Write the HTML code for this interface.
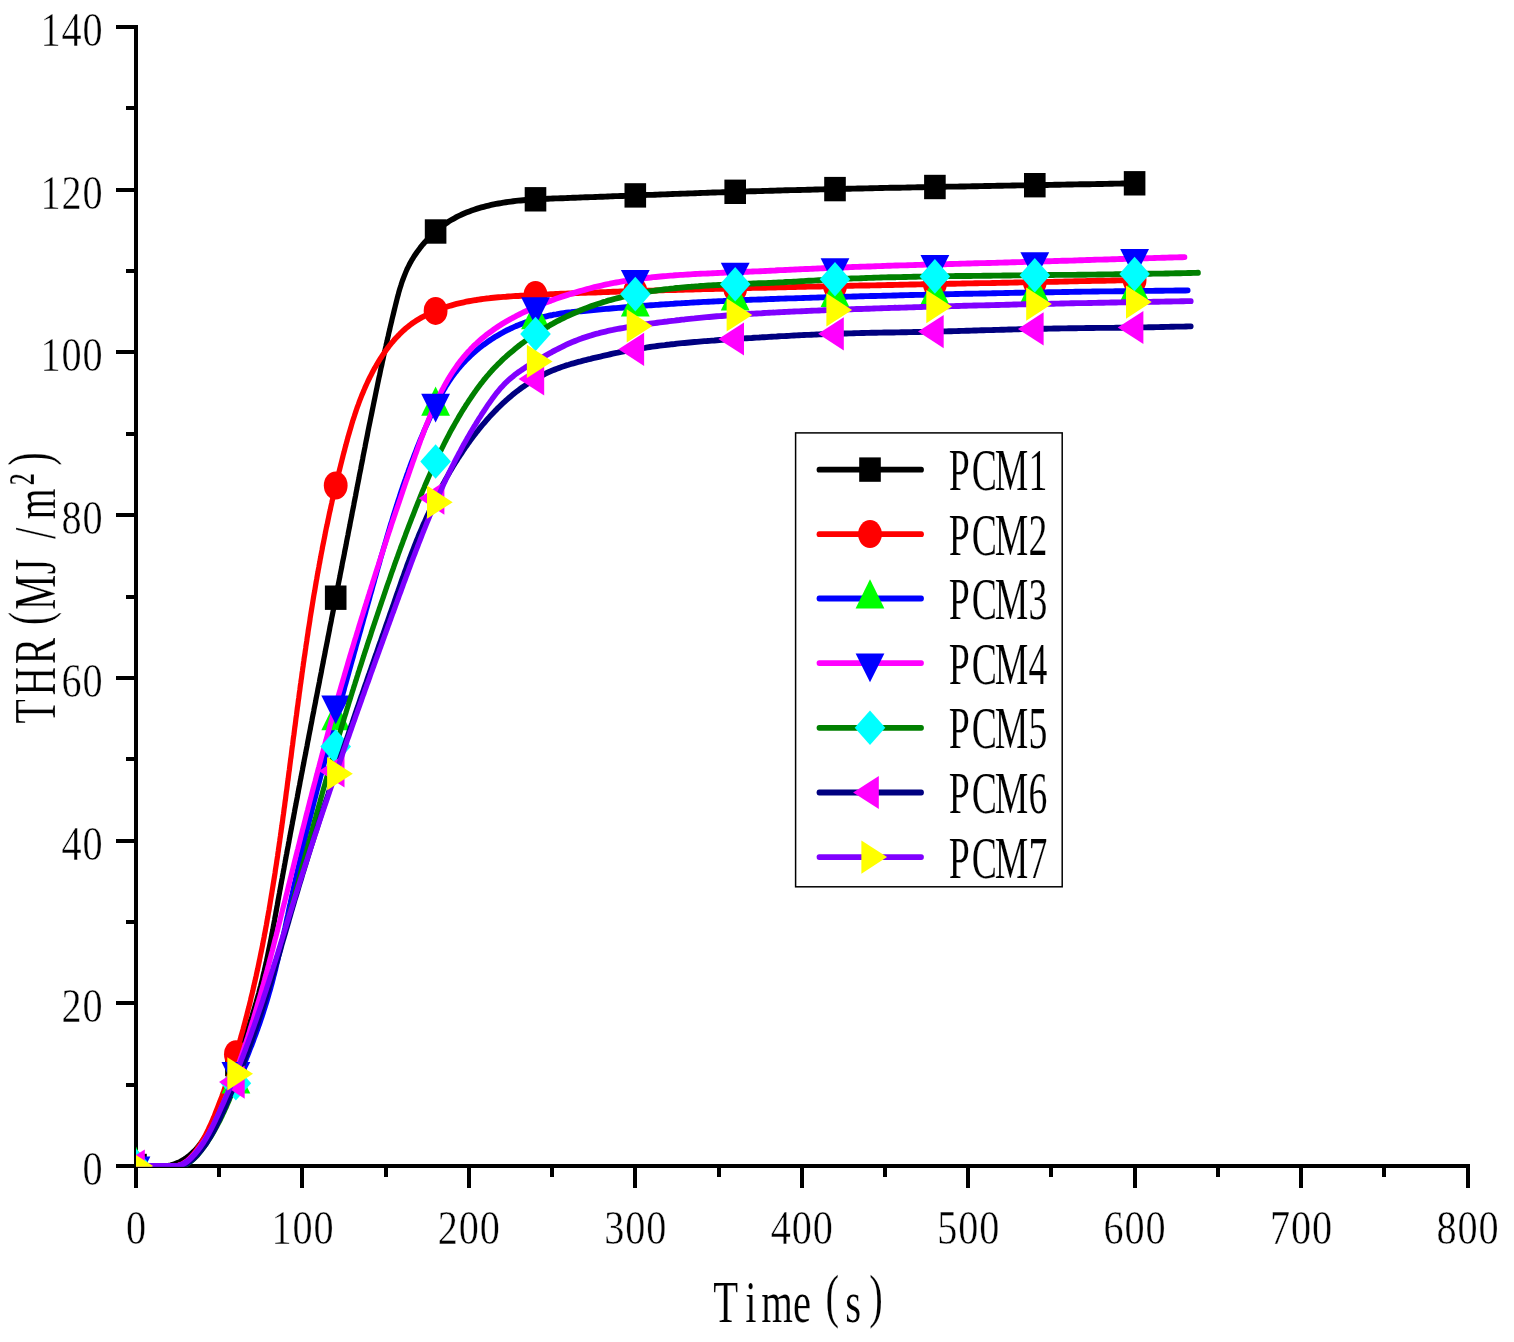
<!DOCTYPE html>
<html lang="en"><head><meta charset="utf-8"><title>THR (MJ/m²) versus Time (s)</title>
<style>html,body{margin:0;padding:0;background:#fff;overflow:hidden}svg{display:block}text{font-family:"Liberation Serif","Noto Serif CJK SC",serif;fill:#000;stroke:#fff;stroke-width:0.2px;stroke-linejoin:round}text.tk{stroke-width:0.45px}</style></head><body>
<svg width="1514" height="1342" viewBox="0 0 1514 1342" role="img" aria-label="THR versus time for PCM1 to PCM7">
<rect width="1514" height="1342" fill="#fff"/>
<g fill="#000" shape-rendering="crispEdges">
<rect x="134" y="25" width="4" height="1143"/>
<rect x="116" y="1164" width="1353.5" height="4"/>
<rect x="126" y="1082.6" width="9" height="4"/>
<rect x="116" y="1001.3" width="19" height="4"/>
<rect x="126" y="919.9" width="9" height="4"/>
<rect x="116" y="838.6" width="19" height="4"/>
<rect x="126" y="757.2" width="9" height="4"/>
<rect x="116" y="675.9" width="19" height="4"/>
<rect x="126" y="594.5" width="9" height="4"/>
<rect x="116" y="513.1" width="19" height="4"/>
<rect x="126" y="431.8" width="9" height="4"/>
<rect x="116" y="350.4" width="19" height="4"/>
<rect x="126" y="269.1" width="9" height="4"/>
<rect x="116" y="187.7" width="19" height="4"/>
<rect x="126" y="106.4" width="9" height="4"/>
<rect x="116" y="25" width="19" height="4"/>
<rect x="134" y="1167" width="4" height="21"/>
<rect x="217.2" y="1167" width="4" height="10"/>
<rect x="300.4" y="1167" width="4" height="21"/>
<rect x="383.7" y="1167" width="4" height="10"/>
<rect x="466.9" y="1167" width="4" height="21"/>
<rect x="550.1" y="1167" width="4" height="10"/>
<rect x="633.3" y="1167" width="4" height="21"/>
<rect x="716.5" y="1167" width="4" height="10"/>
<rect x="799.8" y="1167" width="4" height="21"/>
<rect x="883" y="1167" width="4" height="10"/>
<rect x="966.2" y="1167" width="4" height="21"/>
<rect x="1049.4" y="1167" width="4" height="10"/>
<rect x="1132.6" y="1167" width="4" height="21"/>
<rect x="1215.8" y="1167" width="4" height="10"/>
<rect x="1299.1" y="1167" width="4" height="21"/>
<rect x="1382.3" y="1167" width="4" height="10"/>
<rect x="1465.5" y="1167" width="4" height="21"/>
</g>
<clipPath id="plotclip"><rect x="136" y="20" width="1340" height="1146.8"/></clipPath>
<g clip-path="url(#plotclip)">
<g>
<path transform="scale(1,1.13)" d="M136,1031.9 150.2,1031.9 152.9,1031.9 155.5,1031.9 158.1,1031.9 160.6,1031.9 163.2,1031.9 165.7,1031.9 168.2,1031.8 170.6,1031.3 173,1030.7 175.4,1029.9 177.7,1029.1 179.9,1028.2 182.1,1027.1 184.2,1026 186.2,1024.8 188.2,1023.5 190.1,1022.1 191.9,1020.6 193.7,1019.1 195.4,1017.5 197,1015.9 198.6,1014.2 200.2,1012.4 201.6,1010.6 203.1,1008.8 204.5,1006.9 205.8,1005 207.1,1003.1 208.4,1001.1 209.6,999.1 210.8,997.2 211.9,995.2 213.1,993.2 214.2,991.2 215.3,989.2 216.3,987.2 217.4,985.2 218.4,983.2 219.3,981.2 220.3,979.1 221.3,977.1 222.2,975.1 223.1,973.1 224,971 224.9,969 225.8,967 226.6,964.9 227.5,962.9 228.3,960.8 229.1,958.8 230,956.7 230.8,954.7 231.6,952.6 232.4,950.5 233.2,948.5 234,946.4 234.8,944.3 235.6,942.3 236.5,940.2 237.3,938.1 238.1,936 238.9,933.9 239.7,931.8 240.5,929.7 241.3,927.6 242.2,925.5 243,923.4 243.8,921.3 244.6,919.2 245.4,917.1 246.2,915 247,912.9 247.8,910.8 248.6,908.7 249.4,906.6 250.1,904.4 250.9,902.3 251.7,900.2 252.4,898.1 253.2,895.9 253.9,893.8 254.6,891.7 255.3,889.5 256.1,887.4 256.7,885.3 257.4,883.1 258.1,881 258.8,878.8 259.4,876.7 260,874.5 260.7,872.4 261.3,870.2 261.9,868.1 262.5,865.9 263,863.8 263.6,861.6 264.2,859.5 264.7,857.3 265.3,855.2 265.8,853 266.4,850.8 266.9,848.7 267.4,846.5 267.9,844.4 268.4,842.2 268.9,840 269.4,837.9 269.9,835.7 270.4,833.5 270.9,831.4 271.4,829.2 271.8,827 272.3,824.9 272.8,822.7 273.2,820.5 273.7,818.3 274.1,816.2 274.6,814 275,811.8 275.5,809.7 275.9,807.5 276.4,805.3 276.8,803.1 277.3,801 277.7,798.8 278.1,796.6 278.6,794.5 279,792.3 279.5,790.1 279.9,787.9 280.4,785.8 280.8,783.6 281.3,781.4 281.7,779.2 282.2,777.1 282.6,774.9 283.1,772.7 283.5,770.6 284,768.4 284.4,766.2 284.9,764 285.3,761.9 285.8,759.7 286.2,757.5 286.7,755.4 287.1,753.2 287.6,751 288.1,748.8 288.5,746.7 289,744.5 289.4,742.3 289.9,740.2 290.3,738 290.8,735.8 291.3,733.6 291.7,731.5 292.2,729.3 292.6,727.1 293.1,725 293.6,722.8 294,720.6 294.5,718.4 294.9,716.3 295.4,714.1 295.9,711.9 296.3,709.8 296.8,707.6 297.3,705.4 297.7,703.2 298.2,701.1 298.6,698.9 299.1,696.7 299.6,694.6 300,692.4 300.5,690.2 301,688.1 301.4,685.9 301.9,683.7 302.4,681.5 302.8,679.4 303.3,677.2 303.8,675 304.2,672.9 304.7,670.7 305.2,668.5 305.7,666.4 306.1,664.2 306.6,662 307.1,659.8 307.5,657.7 308,655.5 308.5,653.3 308.9,651.2 309.4,649 309.9,646.8 310.4,644.7 310.8,642.5 311.3,640.3 311.8,638.1 312.2,636 312.7,633.8 313.2,631.6 313.7,629.5 314.1,627.3 314.6,625.1 315.1,623 315.6,620.8 316,618.6 316.5,616.4 317,614.3 317.5,612.1 317.9,609.9 318.4,607.8 318.9,605.6 319.4,603.4 319.8,601.3 320.3,599.1 320.8,596.9 321.3,594.8 321.7,592.6 322.2,590.4 322.7,588.2 323.2,586.1 323.6,583.9 324.1,581.7 324.6,579.6 325.1,577.4 325.5,575.2 326,573.1 326.5,570.9 327,568.7 327.5,566.6 327.9,564.4 328.4,562.2 328.9,560 329.4,557.9 329.8,555.7 330.3,553.5 330.8,551.4 331.3,549.2 331.7,547 332.2,544.9 332.7,542.7 333.2,540.5 333.7,538.4 334.1,536.2 334.6,534 335.1,531.8 335.6,529.7 336,527.5 336.5,525.3 337,523.2 337.5,521 338,518.8 338.4,516.7 338.9,514.5 339.4,512.3 339.9,510.2 340.3,508 340.8,505.8 341.3,503.6 341.8,501.5 342.2,499.3 342.7,497.1 343.2,495 343.7,492.8 344.2,490.6 344.6,488.5 345.1,486.3 345.6,484.1 346.1,482 346.5,479.8 347,477.6 347.5,475.4 348,473.3 348.4,471.1 348.9,468.9 349.4,466.8 349.9,464.6 350.3,462.4 350.8,460.3 351.3,458.1 351.8,455.9 352.2,453.7 352.7,451.6 353.2,449.4 353.7,447.2 354.1,445.1 354.6,442.9 355.1,440.7 355.6,438.6 356,436.4 356.5,434.2 357,432.1 357.4,429.9 357.9,427.7 358.4,425.5 358.9,423.4 359.3,421.2 359.8,419 360.3,416.9 360.8,414.7 361.2,412.5 361.7,410.4 362.2,408.2 362.7,406 363.1,403.8 363.6,401.7 364.1,399.5 364.6,397.3 365.1,395.2 365.5,393 366,390.8 366.5,388.7 367,386.5 367.5,384.3 367.9,382.2 368.4,380 368.9,377.8 369.4,375.7 369.9,373.5 370.4,371.3 370.9,369.1 371.4,367 371.9,364.8 372.4,362.6 372.9,360.5 373.4,358.3 373.9,356.1 374.4,354 374.9,351.8 375.4,349.7 375.9,347.5 376.4,345.3 376.9,343.2 377.4,341 377.9,338.8 378.4,336.7 378.9,334.5 379.5,332.3 380,330.2 380.5,328 381,325.8 381.6,323.7 382.1,321.5 382.6,319.4 383.2,317.2 383.7,315 384.2,312.9 384.8,310.7 385.3,308.6 385.9,306.4 386.4,304.2 387,302.1 387.5,299.9 388.1,297.8 388.6,295.6 389.2,293.4 389.8,291.3 390.3,289.1 390.9,287 391.5,284.8 392,282.7 392.6,280.5 393.2,278.4 393.8,276.2 394.4,274 395,271.9 395.6,269.7 396.2,267.6 396.8,265.4 397.4,263.3 398.1,261.2 398.7,259 399.4,256.9 400.1,254.8 400.9,252.7 401.6,250.6 402.4,248.5 403.3,246.5 404.2,244.4 405.1,242.4 406,240.4 407,238.3 408.1,236.4 409.2,234.4 410.4,232.4 411.6,230.5 412.9,228.6 414.2,226.7 415.6,224.9 417,223.1 418.5,221.3 420,219.5 421.6,217.7 423.2,216 424.9,214.3 426.6,212.7 428.3,211.1 430,209.5 431.8,208 433.6,206.4 435.5,205 437.3,203.5 439.2,202.1 441.1,200.8 443.1,199.5 445.1,198.2 447.1,197 449.1,195.8 451.2,194.7 453.4,193.6 455.6,192.5 457.8,191.5 460,190.6 462.3,189.6 464.6,188.7 466.9,187.9 469.3,187.1 471.6,186.3 474,185.6 476.4,184.9 478.9,184.2 481.3,183.6 483.7,183 486.2,182.4 488.7,181.9 491.1,181.4 493.6,180.9 496,180.5 498.5,180.1 501,179.7 503.4,179.3 505.9,179 508.4,178.7 510.8,178.4 513.3,178.1 515.8,177.8 518.2,177.6 520.7,177.4 523.2,177.2 525.7,177 528.1,176.8 530.6,176.7 533.1,176.5 535.6,176.4 538,176.3 540.5,176.2 543,176 545.5,176 548,175.9 550.4,175.8 552.9,175.7 555.4,175.6 557.9,175.5 560.4,175.4 562.9,175.4 565.3,175.3 567.8,175.2 570.3,175.1 572.8,175 575.3,175 577.8,174.9 580.3,174.8 582.8,174.7 585.2,174.6 587.7,174.6 590.2,174.5 592.7,174.4 595.2,174.3 597.7,174.2 600.2,174.1 602.7,174.1 605.2,174 607.7,173.9 610.2,173.8 612.7,173.7 615.2,173.6 617.7,173.6 620.2,173.5 622.7,173.4 625.1,173.3 627.6,173.2 630.1,173.1 632.6,173.1 635.1,173 637.6,172.9 640.1,172.8 642.6,172.7 645.1,172.6 647.6,172.5 650.1,172.5 652.6,172.4 655.1,172.3 657.6,172.2 660.1,172.1 662.6,172 665.1,172 667.6,171.9 670.1,171.8 672.6,171.7 675.1,171.6 677.6,171.6 680.1,171.5 682.6,171.4 685.1,171.3 687.6,171.2 690.1,171.1 692.6,171.1 695.2,171 697.7,170.9 700.2,170.8 702.7,170.7 705.2,170.7 707.7,170.6 710.2,170.5 712.7,170.4 715.2,170.4 717.7,170.3 720.2,170.2 722.7,170.1 725.2,170.1 727.7,170 730.2,169.9 732.7,169.8 735.2,169.8 737.7,169.7 740.2,169.6 742.7,169.6 745.2,169.5 747.7,169.4 750.2,169.3 752.7,169.3 755.2,169.2 757.7,169.1 760.2,169.1 762.7,169 765.2,168.9 767.7,168.9 770.2,168.8 772.7,168.8 775.2,168.7 777.7,168.6 780.2,168.6 782.7,168.5 785.2,168.4 787.7,168.4 790.2,168.3 792.7,168.3 795.2,168.2 797.7,168.1 800.2,168.1 802.6,168 805.1,168 807.6,167.9 810.1,167.9 812.6,167.8 815.1,167.7 817.6,167.7 820.1,167.6 822.6,167.6 825.1,167.5 827.6,167.5 830.1,167.4 832.6,167.4 835.1,167.3 837.6,167.3 840.1,167.2 842.6,167.2 845.1,167.1 847.6,167 850.1,167 852.6,166.9 855.1,166.9 857.6,166.8 860.1,166.8 862.6,166.8 865.1,166.7 867.6,166.7 870,166.6 872.5,166.6 875,166.5 877.5,166.5 880,166.4 882.5,166.4 885,166.3 887.5,166.3 890,166.2 892.5,166.2 895,166.1 897.5,166.1 900,166.1 902.5,166 905,166 907.5,165.9 910,165.9 912.5,165.8 915,165.8 917.5,165.7 919.9,165.7 922.4,165.7 924.9,165.6 927.4,165.6 929.9,165.5 932.4,165.5 934.9,165.5 937.4,165.4 939.9,165.4 942.4,165.3 944.9,165.3 947.4,165.2 949.9,165.2 952.4,165.2 954.9,165.1 957.4,165.1 959.9,165 962.4,165 964.9,165 967.4,164.9 969.8,164.9 972.3,164.8 974.8,164.8 977.3,164.8 979.8,164.7 982.3,164.7 984.8,164.6 987.3,164.6 989.8,164.6 992.3,164.5 994.8,164.5 997.3,164.4 999.8,164.4 1002.3,164.4 1004.8,164.3 1007.3,164.3 1009.8,164.3 1012.3,164.2 1014.8,164.2 1017.3,164.1 1019.8,164.1 1022.3,164.1 1024.8,164 1027.3,164 1029.8,163.9 1032.2,163.9 1034.7,163.9 1037.2,163.8 1039.7,163.8 1042.2,163.7 1044.7,163.7 1047.2,163.7 1049.7,163.6 1052.2,163.6 1054.7,163.5 1057.2,163.5 1059.7,163.5 1062.2,163.4 1064.7,163.4 1067.2,163.3 1069.7,163.3 1072.2,163.3 1074.7,163.2 1077.2,163.2 1079.7,163.1 1082.2,163.1 1084.7,163.1 1087.2,163 1089.7,163 1092.2,162.9 1094.7,162.9 1097.2,162.8 1099.7,162.8 1102.2,162.8 1104.7,162.7 1107.2,162.7 1109.7,162.6 1112.2,162.6 1114.7,162.5 1117.2,162.5 1119.7,162.5 1122.2,162.4 1124.7,162.4 1127.2,162.3 1129.7,162.3 1132.2,162.2 1134.7,162.2" fill="none" stroke="#000000" stroke-width="5.2" stroke-linecap="round" stroke-linejoin="round"/>
<rect x="125.2" y="1153.8" width="21.6" height="24.4" fill="#000000"/>
<rect x="225.1" y="1051.9" width="21.6" height="24.4" fill="#000000"/>
<rect x="324.9" y="585.5" width="21.6" height="24.4" fill="#000000"/>
<rect x="424.8" y="219.3" width="21.6" height="24.4" fill="#000000"/>
<rect x="524.7" y="187.1" width="21.6" height="24.4" fill="#000000"/>
<rect x="624.5" y="183.2" width="21.6" height="24.4" fill="#000000"/>
<rect x="724.4" y="179.6" width="21.6" height="24.4" fill="#000000"/>
<rect x="824.2" y="176.9" width="21.6" height="24.4" fill="#000000"/>
<rect x="924.1" y="174.8" width="21.6" height="24.4" fill="#000000"/>
<rect x="1024" y="173" width="21.6" height="24.4" fill="#000000"/>
<rect x="1123.8" y="171.1" width="21.6" height="24.4" fill="#000000"/>
</g>
<g>
<path transform="scale(1,1.13)" d="M136,1031.9 160.1,1031.9 163,1031.9 165.8,1031.9 168.5,1031.9 171,1031.9 173.5,1031.9 175.9,1031.9 178.1,1031.7 180.3,1031 182.4,1030.2 184.4,1029.1 186.4,1027.9 188.2,1026.5 190,1024.9 191.7,1023.3 193.3,1021.6 194.9,1019.8 196.4,1017.9 197.8,1016 199.2,1014.2 200.6,1012.3 201.9,1010.4 203.1,1008.4 204.3,1006.5 205.5,1004.6 206.6,1002.6 207.7,1000.7 208.7,998.7 209.8,996.7 210.8,994.8 211.8,992.8 212.7,990.8 213.7,988.8 214.6,986.8 215.5,984.7 216.4,982.7 217.3,980.7 218.2,978.6 219.1,976.6 220,974.5 220.9,972.5 221.8,970.4 222.6,968.3 223.5,966.2 224.3,964.1 225.1,962.1 226,960 226.8,957.9 227.6,955.8 228.4,953.7 229.2,951.6 230,949.4 230.8,947.3 231.5,945.2 232.3,943.1 233.1,941 233.8,938.8 234.6,936.7 235.3,934.6 236,932.5 236.7,930.3 237.5,928.2 238.2,926.1 238.9,923.9 239.6,921.8 240.3,919.7 240.9,917.5 241.6,915.4 242.3,913.3 243,911.1 243.6,909 244.3,906.8 244.9,904.7 245.5,902.6 246.2,900.4 246.8,898.3 247.4,896.1 248,894 248.7,891.8 249.3,889.7 249.9,887.5 250.5,885.4 251,883.2 251.6,881.1 252.2,878.9 252.8,876.8 253.3,874.6 253.9,872.5 254.4,870.3 255,868.2 255.5,866 256.1,863.9 256.6,861.7 257.1,859.6 257.7,857.4 258.2,855.2 258.7,853.1 259.2,850.9 259.7,848.8 260.2,846.6 260.7,844.4 261.2,842.3 261.7,840.1 262.2,837.9 262.7,835.8 263.1,833.6 263.6,831.5 264.1,829.3 264.5,827.1 265,825 265.5,822.8 265.9,820.6 266.4,818.4 266.8,816.3 267.2,814.1 267.7,811.9 268.1,809.8 268.5,807.6 269,805.4 269.4,803.2 269.8,801.1 270.2,798.9 270.6,796.7 271,794.5 271.4,792.4 271.8,790.2 272.2,788 272.6,785.8 273,783.7 273.4,781.5 273.8,779.3 274.2,777.1 274.6,774.9 275,772.8 275.3,770.6 275.7,768.4 276.1,766.2 276.5,764 276.8,761.9 277.2,759.7 277.6,757.5 277.9,755.3 278.3,753.1 278.6,750.9 279,748.8 279.3,746.6 279.7,744.4 280,742.2 280.4,740 280.7,737.8 281.1,735.7 281.4,733.5 281.8,731.3 282.1,729.1 282.5,726.9 282.8,724.7 283.1,722.5 283.5,720.3 283.8,718.2 284.1,716 284.5,713.8 284.8,711.6 285.1,709.4 285.5,707.2 285.8,705 286.1,702.8 286.4,700.6 286.8,698.5 287.1,696.3 287.4,694.1 287.7,691.9 288.1,689.7 288.4,687.5 288.7,685.3 289,683.1 289.4,680.9 289.7,678.7 290,676.5 290.3,674.4 290.6,672.2 291,670 291.3,667.8 291.6,665.6 291.9,663.4 292.2,661.2 292.6,659 292.9,656.8 293.2,654.6 293.5,652.4 293.9,650.2 294.2,648.1 294.5,645.9 294.8,643.7 295.2,641.5 295.5,639.3 295.8,637.1 296.1,634.9 296.5,632.7 296.8,630.5 297.1,628.3 297.4,626.1 297.8,624 298.1,621.8 298.4,619.6 298.8,617.4 299.1,615.2 299.4,613 299.8,610.8 300.1,608.6 300.4,606.4 300.8,604.2 301.1,602 301.5,599.9 301.8,597.7 302.1,595.5 302.5,593.3 302.8,591.1 303.2,588.9 303.5,586.7 303.9,584.5 304.2,582.3 304.6,580.2 305,578 305.3,575.8 305.7,573.6 306,571.4 306.4,569.2 306.8,567 307.1,564.9 307.5,562.7 307.9,560.5 308.2,558.3 308.6,556.1 309,553.9 309.4,551.7 309.8,549.6 310.1,547.4 310.5,545.2 310.9,543 311.3,540.8 311.7,538.6 312.1,536.5 312.5,534.3 312.9,532.1 313.3,529.9 313.7,527.7 314.1,525.6 314.6,523.4 315,521.2 315.4,519 315.8,516.9 316.2,514.7 316.7,512.5 317.1,510.3 317.5,508.1 318,506 318.4,503.8 318.9,501.6 319.3,499.4 319.8,497.3 320.2,495.1 320.7,492.9 321.1,490.8 321.6,488.6 322.1,486.4 322.5,484.2 323,482.1 323.5,479.9 324,477.7 324.5,475.6 325,473.4 325.4,471.2 325.9,469.1 326.4,466.9 327,464.7 327.5,462.6 328,460.4 328.5,458.3 329,456.1 329.5,453.9 330.1,451.8 330.6,449.6 331.1,447.5 331.7,445.3 332.2,443.1 332.8,441 333.3,438.8 333.9,436.7 334.4,434.5 335,432.4 335.6,430.2 336.1,428.1 336.7,425.9 337.3,423.8 337.9,421.6 338.5,419.5 339.1,417.3 339.7,415.2 340.3,413.1 340.9,410.9 341.5,408.8 342.1,406.6 342.7,404.5 343.3,402.4 344,400.2 344.6,398.1 345.2,396 345.9,393.8 346.5,391.7 347.2,389.6 347.8,387.4 348.5,385.3 349.2,383.2 349.9,381.1 350.6,379 351.3,376.9 352,374.7 352.7,372.6 353.5,370.5 354.3,368.4 355,366.4 355.8,364.3 356.6,362.2 357.4,360.1 358.3,358 359.1,356 360,353.9 360.9,351.8 361.8,349.8 362.8,347.7 363.8,345.7 364.7,343.7 365.7,341.7 366.8,339.6 367.8,337.6 368.9,335.6 370,333.6 371.2,331.6 372.3,329.7 373.5,327.7 374.7,325.7 376,323.8 377.3,321.8 378.6,319.9 379.9,318 381.3,316.1 382.7,314.2 384.2,312.3 385.6,310.5 387.1,308.6 388.7,306.8 390.2,305 391.8,303.3 393.5,301.6 395.1,299.9 396.8,298.3 398.6,296.7 400.3,295.1 402.1,293.6 403.9,292.1 405.8,290.6 407.7,289.3 409.6,287.9 411.5,286.6 413.5,285.4 415.5,284.2 417.6,283.1 419.7,282 421.8,280.9 423.9,279.9 426.1,278.9 428.3,278 430.5,277 432.8,276.1 435.1,275.3 437.4,274.5 439.7,273.7 442.1,272.9 444.4,272.2 446.8,271.5 449.2,270.8 451.6,270.2 454,269.6 456.5,269 458.9,268.5 461.3,268 463.8,267.5 466.2,267 468.7,266.6 471.1,266.2 473.6,265.8 476.1,265.5 478.5,265.1 481,264.8 483.5,264.5 485.9,264.2 488.4,264 490.9,263.7 493.4,263.5 495.9,263.3 498.4,263.1 500.8,262.9 503.3,262.7 505.8,262.6 508.3,262.4 510.8,262.3 513.3,262.1 515.8,262 518.3,261.9 520.8,261.7 523.3,261.6 525.8,261.5 528.3,261.4 530.8,261.2 533.2,261.1 535.7,261 538.2,260.9 540.7,260.8 543.2,260.7 545.7,260.6 548.2,260.5 550.7,260.4 553.2,260.3 555.7,260.2 558.2,260.1 560.7,260 563.2,259.9 565.7,259.8 568.2,259.7 570.7,259.6 573.2,259.5 575.7,259.4 578.2,259.3 580.6,259.2 583.1,259.2 585.6,259.1 588.1,259 590.6,258.9 593.1,258.8 595.6,258.8 598.1,258.7 600.6,258.6 603.1,258.5 605.6,258.5 608.1,258.4 610.6,258.3 613.1,258.2 615.6,258.2 618.1,258.1 620.6,258 623.1,258 625.6,257.9 628.1,257.8 630.5,257.7 633,257.7 635.5,257.6 638,257.5 640.5,257.5 643,257.4 645.5,257.3 648,257.3 650.5,257.2 653,257.2 655.5,257.1 658,257 660.5,257 663,256.9 665.5,256.8 668,256.8 670.5,256.7 673,256.6 675.5,256.6 678,256.5 680.5,256.5 682.9,256.4 685.4,256.3 687.9,256.3 690.4,256.2 692.9,256.2 695.4,256.1 697.9,256 700.4,256 702.9,255.9 705.4,255.9 707.9,255.8 710.4,255.8 712.9,255.7 715.4,255.6 717.9,255.6 720.4,255.5 722.9,255.5 725.4,255.4 727.9,255.4 730.4,255.3 732.9,255.3 735.4,255.2 737.8,255.1 740.3,255.1 742.8,255 745.3,255 747.8,254.9 750.3,254.9 752.8,254.8 755.3,254.8 757.8,254.7 760.3,254.7 762.8,254.6 765.3,254.6 767.8,254.5 770.3,254.5 772.8,254.4 775.3,254.4 777.8,254.3 780.3,254.3 782.8,254.2 785.3,254.2 787.8,254.1 790.3,254.1 792.8,254 795.2,254 797.7,253.9 800.2,253.9 802.7,253.8 805.2,253.8 807.7,253.7 810.2,253.7 812.7,253.6 815.2,253.6 817.7,253.5 820.2,253.5 822.7,253.4 825.2,253.4 827.7,253.3 830.2,253.3 832.7,253.2 835.2,253.2 837.7,253.1 840.2,253.1 842.7,253.1 845.2,253 847.7,253 850.2,252.9 852.7,252.9 855.1,252.8 857.6,252.8 860.1,252.7 862.6,252.7 865.1,252.6 867.6,252.6 870.1,252.6 872.6,252.5 875.1,252.5 877.6,252.4 880.1,252.4 882.6,252.3 885.1,252.3 887.6,252.2 890.1,252.2 892.6,252.2 895.1,252.1 897.6,252.1 900.1,252 902.6,252 905.1,251.9 907.6,251.9 910.1,251.8 912.6,251.8 915.1,251.8 917.5,251.7 920,251.7 922.5,251.6 925,251.6 927.5,251.5 930,251.5 932.5,251.5 935,251.4 937.5,251.4 940,251.3 942.5,251.3 945,251.2 947.5,251.2 950,251.1 952.5,251.1 955,251.1 957.5,251 960,251 962.5,250.9 965,250.9 967.5,250.8 970,250.8 972.5,250.8 975,250.7 977.5,250.7 979.9,250.6 982.4,250.6 984.9,250.5 987.4,250.5 989.9,250.5 992.4,250.4 994.9,250.4 997.4,250.3 999.9,250.3 1002.4,250.2 1004.9,250.2 1007.4,250.2 1009.9,250.1 1012.4,250.1 1014.9,250 1017.4,250 1019.9,249.9 1022.4,249.9 1024.9,249.8 1027.4,249.8 1029.9,249.8 1032.4,249.7 1034.9,249.7 1037.4,249.6 1039.9,249.6 1042.3,249.5 1044.8,249.5 1047.3,249.4 1049.8,249.4 1052.3,249.4 1054.8,249.3 1057.3,249.3 1059.8,249.2 1062.3,249.2 1064.8,249.1 1067.3,249.1 1069.8,249 1072.3,249 1074.8,248.9 1077.3,248.9 1079.8,248.8 1082.3,248.8 1084.8,248.8 1087.3,248.7 1089.8,248.7 1092.3,248.6 1094.8,248.6 1097.3,248.5 1099.8,248.5 1102.3,248.4 1104.8,248.4 1107.2,248.3 1109.7,248.3 1112.2,248.2 1114.7,248.2 1117.2,248.1 1119.7,248.1 1122.2,248 1124.7,248 1127.2,247.9 1129.7,247.9 1132.2,247.8 1134.7,247.8" fill="none" stroke="#ff0000" stroke-width="5.2" stroke-linecap="round" stroke-linejoin="round"/>
<ellipse cx="136" cy="1166" rx="11.9" ry="14" fill="#ff0000"/>
<ellipse cx="235.9" cy="1054.2" rx="11.9" ry="14" fill="#ff0000"/>
<ellipse cx="335.7" cy="485.5" rx="11.9" ry="14" fill="#ff0000"/>
<ellipse cx="435.6" cy="310.9" rx="11.9" ry="14" fill="#ff0000"/>
<ellipse cx="535.5" cy="295" rx="11.9" ry="14" fill="#ff0000"/>
<ellipse cx="635.3" cy="291.1" rx="11.9" ry="14" fill="#ff0000"/>
<ellipse cx="735.2" cy="288.4" rx="11.9" ry="14" fill="#ff0000"/>
<ellipse cx="835" cy="286.1" rx="11.9" ry="14" fill="#ff0000"/>
<ellipse cx="934.9" cy="284.1" rx="11.9" ry="14" fill="#ff0000"/>
<ellipse cx="1034.8" cy="282.1" rx="11.9" ry="14" fill="#ff0000"/>
<ellipse cx="1134.6" cy="280" rx="11.9" ry="14" fill="#ff0000"/>
</g>
<g>
<path transform="scale(1,1.13)" d="M136,1031.9 163.7,1031.9 166.5,1031.9 169.3,1031.9 171.9,1031.9 174.5,1031.9 177,1031.9 179.4,1031.9 181.7,1031.7 183.9,1031.1 186,1030.3 188.1,1029.3 190,1028 192,1026.5 193.8,1025 195.6,1023.3 197.3,1021.6 198.9,1019.8 200.5,1018.1 202.1,1016.3 203.6,1014.5 205,1012.7 206.4,1010.9 207.8,1009.1 209.1,1007.2 210.4,1005.3 211.6,1003.5 212.8,1001.6 214,999.7 215.2,997.8 216.3,995.8 217.5,993.9 218.6,991.9 219.7,990 220.8,988 221.8,986 222.9,984.1 224,982.1 225,980.1 226.1,978.1 227.1,976.1 228.1,974.1 229.2,972.1 230.2,970 231.2,968 232.2,966 233.3,964 234.3,962 235.3,959.9 236.3,957.9 237.3,955.9 238.3,953.8 239.3,951.8 240.3,949.7 241.3,947.7 242.2,945.6 243.2,943.6 244.2,941.5 245.1,939.5 246.1,937.4 247,935.3 248,933.3 248.9,931.2 249.8,929.1 250.7,927.1 251.7,925 252.6,922.9 253.5,920.8 254.3,918.7 255.2,916.6 256.1,914.6 256.9,912.5 257.8,910.4 258.6,908.3 259.5,906.2 260.3,904.1 261.1,902 261.9,899.9 262.7,897.8 263.5,895.6 264.2,893.5 265,891.4 265.7,889.3 266.5,887.2 267.2,885.1 267.9,883 268.6,880.8 269.3,878.7 270,876.6 270.7,874.5 271.3,872.3 272,870.2 272.6,868.1 273.2,866 273.8,863.8 274.5,861.7 275.1,859.5 275.7,857.4 276.2,855.3 276.8,853.1 277.4,851 278,848.9 278.5,846.7 279.1,844.6 279.7,842.4 280.2,840.3 280.7,838.1 281.3,836 281.8,833.9 282.3,831.7 282.9,829.6 283.4,827.4 283.9,825.3 284.4,823.1 285,821 285.5,818.8 286,816.7 286.5,814.5 287,812.4 287.6,810.2 288.1,808.1 288.6,805.9 289.1,803.8 289.6,801.6 290.2,799.5 290.7,797.3 291.2,795.2 291.7,793 292.3,790.9 292.8,788.7 293.3,786.6 293.9,784.4 294.4,782.3 295,780.1 295.5,778 296.1,775.8 296.6,773.7 297.2,771.5 297.7,769.4 298.3,767.2 298.9,765.1 299.4,762.9 300,760.8 300.6,758.6 301.1,756.5 301.7,754.3 302.3,752.2 302.9,750 303.4,747.9 304,745.7 304.6,743.6 305.2,741.4 305.8,739.3 306.4,737.2 307,735 307.6,732.9 308.2,730.7 308.8,728.6 309.4,726.4 310,724.3 310.6,722.1 311.2,720 311.8,717.8 312.4,715.7 313,713.5 313.6,711.4 314.2,709.2 314.9,707.1 315.5,705 316.1,702.8 316.7,700.7 317.3,698.5 318,696.4 318.6,694.2 319.2,692.1 319.9,689.9 320.5,687.8 321.1,685.7 321.8,683.5 322.4,681.4 323,679.2 323.7,677.1 324.3,674.9 324.9,672.8 325.6,670.7 326.2,668.5 326.9,666.4 327.5,664.2 328.2,662.1 328.8,659.9 329.5,657.8 330.1,655.7 330.8,653.5 331.4,651.4 332.1,649.2 332.7,647.1 333.4,644.9 334,642.8 334.7,640.7 335.4,638.5 336,636.4 336.7,634.2 337.3,632.1 338,630 338.7,627.8 339.3,625.7 340,623.5 340.6,621.4 341.3,619.3 342,617.1 342.6,615 343.3,612.9 344,610.7 344.6,608.6 345.3,606.4 346,604.3 346.6,602.2 347.3,600 348,597.9 348.7,595.7 349.3,593.6 350,591.5 350.7,589.3 351.3,587.2 352,585.1 352.7,582.9 353.4,580.8 354,578.7 354.7,576.5 355.4,574.4 356,572.3 356.7,570.1 357.4,568 358.1,565.8 358.7,563.7 359.4,561.6 360.1,559.4 360.8,557.3 361.4,555.2 362.1,553 362.8,550.9 363.4,548.8 364.1,546.6 364.8,544.5 365.5,542.4 366.1,540.2 366.8,538.1 367.5,536 368.1,533.9 368.8,531.7 369.5,529.6 370.1,527.5 370.8,525.3 371.5,523.2 372.2,521.1 372.8,518.9 373.5,516.8 374.2,514.7 374.8,512.5 375.5,510.4 376.2,508.3 376.8,506.2 377.5,504 378.2,501.9 378.9,499.8 379.6,497.7 380.2,495.5 380.9,493.4 381.6,491.3 382.3,489.2 383,487.1 383.7,484.9 384.4,482.8 385.1,480.7 385.8,478.6 386.5,476.5 387.2,474.3 387.9,472.2 388.6,470.1 389.3,468 390,465.9 390.7,463.8 391.5,461.7 392.2,459.6 392.9,457.5 393.7,455.4 394.4,453.3 395.2,451.2 395.9,449.1 396.7,447 397.4,444.9 398.2,442.8 399,440.7 399.8,438.6 400.5,436.5 401.3,434.4 402.1,432.3 402.9,430.2 403.7,428.2 404.5,426.1 405.4,424 406.2,421.9 407,419.8 407.9,417.8 408.7,415.7 409.6,413.6 410.4,411.6 411.3,409.5 412.2,407.4 413.1,405.4 414,403.3 414.9,401.2 415.8,399.2 416.7,397.1 417.6,395.1 418.6,393 419.5,391 420.4,389 421.4,386.9 422.4,384.9 423.4,382.8 424.3,380.8 425.3,378.8 426.3,376.8 427.4,374.7 428.4,372.7 429.4,370.7 430.5,368.7 431.5,366.7 432.6,364.6 433.7,362.6 434.8,360.6 435.9,358.6 437,356.6 438.1,354.6 439.2,352.6 440.4,350.7 441.6,348.7 442.8,346.7 444,344.8 445.3,342.9 446.6,340.9 447.9,339.1 449.3,337.2 450.7,335.3 452.1,333.5 453.6,331.7 455.1,329.9 456.7,328.2 458.3,326.4 459.9,324.7 461.5,323 463.2,321.4 465,319.7 466.7,318.1 468.5,316.6 470.3,315 472.2,313.5 474,312 475.9,310.6 477.8,309.1 479.8,307.7 481.8,306.3 483.7,305 485.8,303.7 487.8,302.4 489.8,301.2 491.9,300 494,298.8 496.1,297.6 498.3,296.5 500.4,295.4 502.6,294.4 504.8,293.3 507,292.3 509.2,291.4 511.4,290.4 513.7,289.5 515.9,288.6 518.2,287.8 520.5,287 522.8,286.2 525.1,285.4 527.4,284.7 529.8,284 532.1,283.3 534.5,282.7 536.9,282.1 539.3,281.5 541.7,280.9 544.1,280.4 546.5,279.9 548.9,279.4 551.4,279 553.8,278.5 556.2,278.2 558.7,277.8 561.2,277.4 563.6,277.1 566.1,276.8 568.6,276.5 571.1,276.3 573.5,276 576,275.8 578.5,275.6 581,275.4 583.5,275.2 586,275 588.5,274.8 591,274.6 593.5,274.4 596,274.2 598.5,274 601,273.8 603.5,273.6 606,273.4 608.5,273.2 611,273 613.5,272.8 616,272.7 618.5,272.5 621,272.3 623.5,272.1 626,271.9 628.5,271.7 631,271.5 633.5,271.3 636,271.2 638.5,271 641,270.8 643.5,270.6 646,270.5 648.5,270.3 651,270.1 653.5,270 656,269.8 658.5,269.7 661,269.5 663.5,269.4 666,269.2 668.5,269.1 670.9,268.9 673.4,268.8 675.9,268.6 678.4,268.5 680.9,268.4 683.4,268.2 685.9,268.1 688.4,268 690.9,267.8 693.4,267.7 695.9,267.6 698.4,267.5 700.9,267.4 703.4,267.2 705.9,267.1 708.4,267 710.9,266.9 713.4,266.8 715.9,266.7 718.4,266.6 720.9,266.5 723.4,266.4 725.9,266.2 728.4,266.1 730.9,266 733.4,265.9 735.9,265.9 738.4,265.8 740.9,265.7 743.3,265.6 745.8,265.5 748.3,265.4 750.8,265.3 753.3,265.2 755.8,265.1 758.3,265 760.8,265 763.3,264.9 765.8,264.8 768.3,264.7 770.8,264.6 773.3,264.6 775.8,264.5 778.3,264.4 780.8,264.3 783.3,264.3 785.8,264.2 788.3,264.1 790.8,264 793.3,264 795.8,263.9 798.3,263.8 800.7,263.8 803.2,263.7 805.7,263.6 808.2,263.6 810.7,263.5 813.2,263.4 815.7,263.4 818.2,263.3 820.7,263.2 823.2,263.2 825.7,263.1 828.2,263 830.7,263 833.2,262.9 835.7,262.9 838.2,262.8 840.7,262.7 843.2,262.7 845.7,262.6 848.2,262.5 850.7,262.5 853.1,262.4 855.6,262.4 858.1,262.3 860.6,262.2 863.1,262.2 865.6,262.1 868.1,262.1 870.6,262 873.1,262 875.6,261.9 878.1,261.8 880.6,261.8 883.1,261.7 885.6,261.7 888.1,261.6 890.6,261.6 893.1,261.5 895.6,261.5 898.1,261.4 900.6,261.3 903.1,261.3 905.5,261.2 908,261.2 910.5,261.1 913,261.1 915.5,261 918,261 920.5,260.9 923,260.9 925.5,260.8 928,260.8 930.5,260.7 933,260.7 935.5,260.6 938,260.6 940.5,260.5 943,260.5 945.5,260.4 948,260.4 950.5,260.3 953,260.3 955.5,260.2 958,260.2 960.5,260.1 963,260.1 965.4,260 967.9,260 970.4,259.9 972.9,259.9 975.4,259.8 977.9,259.8 980.4,259.7 982.9,259.7 985.4,259.7 987.9,259.6 990.4,259.6 992.9,259.5 995.4,259.5 997.9,259.4 1000.4,259.4 1002.9,259.4 1005.4,259.3 1007.9,259.3 1010.4,259.2 1012.9,259.2 1015.4,259.1 1017.9,259.1 1020.4,259.1 1022.9,259 1025.4,259 1027.9,258.9 1030.4,258.9 1032.9,258.9 1035.4,258.8 1037.9,258.8 1040.4,258.7 1042.9,258.7 1045.4,258.7 1047.9,258.6 1050.4,258.6 1052.9,258.6 1055.4,258.5 1057.9,258.5 1060.4,258.5 1062.9,258.4 1065.3,258.4 1067.8,258.4 1070.3,258.3 1072.8,258.3 1075.3,258.2 1077.8,258.2 1080.3,258.2 1082.8,258.1 1085.3,258.1 1087.8,258.1 1090.3,258.1 1092.8,258 1095.3,258 1097.8,258 1100.3,257.9 1102.8,257.9 1105.3,257.9 1107.8,257.8 1110.3,257.8 1112.8,257.8 1115.3,257.7 1117.8,257.7 1120.3,257.7 1122.8,257.7 1125.3,257.6 1127.8,257.6 1130.3,257.6 1132.8,257.6 1135.4,257.5 1137.9,257.5 1140.4,257.5 1142.9,257.5 1145.4,257.4 1147.9,257.4 1150.4,257.4 1152.9,257.4 1155.4,257.3 1157.9,257.3 1160.4,257.3 1162.9,257.3 1165.4,257.2 1167.9,257.2 1170.4,257.2 1172.9,257.2 1175.4,257.1 1177.9,257.1 1180.4,257.1 1182.9,257.1 1185.4,257.1 1187.9,257" fill="none" stroke="#0000ff" stroke-width="5.2" stroke-linecap="round" stroke-linejoin="round"/>
<polygon points="136,1146.6 150.4,1176 121.6,1176" fill="#00ff00"/>
<polygon points="235.9,1064 250.3,1093.4 221.5,1093.4" fill="#00ff00"/>
<polygon points="335.7,700.8 350.1,730.2 321.3,730.2" fill="#00ff00"/>
<polygon points="435.6,386.4 450,415.8 421.2,415.8" fill="#00ff00"/>
<polygon points="535.5,299.8 549.9,329.2 521.1,329.2" fill="#00ff00"/>
<polygon points="635.3,287.1 649.7,316.5 620.9,316.5" fill="#00ff00"/>
<polygon points="735.2,281 749.6,310.4 720.8,310.4" fill="#00ff00"/>
<polygon points="835,277.6 849.4,307 820.6,307" fill="#00ff00"/>
<polygon points="934.9,275.1 949.3,304.5 920.5,304.5" fill="#00ff00"/>
<polygon points="1034.8,273.1 1049.2,302.5 1020.4,302.5" fill="#00ff00"/>
<polygon points="1134.6,271.6 1149,301 1120.2,301" fill="#00ff00"/>
</g>
<g>
<path transform="scale(1,1.13)" d="M136,1031.9 160.5,1031.9 163.4,1031.9 166.1,1031.9 168.7,1031.9 171.2,1031.9 173.7,1031.9 176,1031.9 178.3,1031.6 180.5,1031 182.6,1030.2 184.6,1029.2 186.6,1027.9 188.5,1026.5 190.3,1025 192.1,1023.4 193.8,1021.7 195.5,1020 197.1,1018.3 198.7,1016.6 200.2,1014.8 201.7,1013 203.1,1011.2 204.5,1009.4 205.9,1007.5 207.2,1005.6 208.5,1003.7 209.7,1001.8 210.9,999.9 212.1,998 213.3,996 214.4,994 215.5,992.1 216.6,990.1 217.7,988.1 218.7,986.1 219.7,984 220.7,982 221.7,980 222.7,977.9 223.7,975.9 224.6,973.9 225.6,971.8 226.5,969.8 227.5,967.7 228.4,965.7 229.3,963.6 230.2,961.5 231.1,959.5 232,957.4 232.9,955.4 233.8,953.3 234.6,951.2 235.5,949.2 236.4,947.1 237.2,945 238.1,942.9 238.9,940.8 239.7,938.8 240.5,936.7 241.4,934.6 242.2,932.5 243,930.4 243.8,928.3 244.6,926.2 245.3,924.1 246.1,922.1 246.9,920 247.7,917.9 248.4,915.8 249.2,913.7 249.9,911.6 250.7,909.4 251.4,907.3 252.1,905.2 252.9,903.1 253.6,901 254.3,898.9 255,896.8 255.7,894.7 256.4,892.6 257.1,890.4 257.8,888.3 258.5,886.2 259.2,884.1 259.9,881.9 260.6,879.8 261.3,877.7 261.9,875.6 262.6,873.4 263.3,871.3 263.9,869.2 264.6,867.1 265.2,864.9 265.9,862.8 266.5,860.7 267.2,858.5 267.8,856.4 268.5,854.3 269.1,852.1 269.7,850 270.4,847.8 271,845.7 271.6,843.6 272.3,841.4 272.9,839.3 273.5,837.1 274.1,835 274.7,832.9 275.3,830.7 276,828.6 276.6,826.4 277.2,824.3 277.8,822.2 278.4,820 279,817.9 279.6,815.7 280.2,813.6 280.8,811.4 281.4,809.3 282,807.1 282.6,805 283.2,802.8 283.9,800.7 284.5,798.6 285.1,796.4 285.7,794.3 286.3,792.1 286.9,790 287.5,787.8 288.1,785.7 288.7,783.5 289.3,781.4 289.9,779.2 290.5,777.1 291.1,775 291.7,772.8 292.3,770.7 292.9,768.5 293.5,766.4 294.1,764.2 294.7,762.1 295.3,759.9 295.9,757.8 296.5,755.7 297.1,753.5 297.8,751.4 298.4,749.2 299,747.1 299.6,744.9 300.2,742.8 300.8,740.6 301.4,738.5 302,736.4 302.6,734.2 303.3,732.1 303.9,729.9 304.5,727.8 305.1,725.7 305.7,723.5 306.3,721.4 306.9,719.2 307.6,717.1 308.2,714.9 308.8,712.8 309.4,710.7 310,708.5 310.7,706.4 311.3,704.2 311.9,702.1 312.5,700 313.2,697.8 313.8,695.7 314.4,693.6 315.1,691.4 315.7,689.3 316.3,687.1 317,685 317.6,682.9 318.2,680.7 318.9,678.6 319.5,676.5 320.2,674.3 320.8,672.2 321.4,670.1 322.1,667.9 322.7,665.8 323.4,663.7 324,661.5 324.7,659.4 325.3,657.3 326,655.1 326.6,653 327.3,650.9 327.9,648.7 328.6,646.6 329.3,644.5 329.9,642.3 330.6,640.2 331.3,638.1 331.9,636 332.6,633.8 333.3,631.7 333.9,629.6 334.6,627.4 335.3,625.3 336,623.2 336.7,621.1 337.3,618.9 338,616.8 338.7,614.7 339.4,612.6 340.1,610.5 340.8,608.3 341.5,606.2 342.2,604.1 342.9,602 343.6,599.9 344.3,597.7 345,595.6 345.7,593.5 346.4,591.4 347.1,589.3 347.8,587.1 348.5,585 349.2,582.9 349.9,580.8 350.6,578.7 351.3,576.6 352.1,574.4 352.8,572.3 353.5,570.2 354.2,568.1 354.9,566 355.7,563.9 356.4,561.8 357.1,559.7 357.9,557.5 358.6,555.4 359.3,553.3 360.1,551.2 360.8,549.1 361.5,547 362.3,544.9 363,542.8 363.7,540.7 364.5,538.6 365.2,536.5 366,534.3 366.7,532.2 367.5,530.1 368.2,528 369,525.9 369.7,523.8 370.5,521.7 371.2,519.6 372,517.5 372.7,515.4 373.5,513.3 374.3,511.2 375,509.1 375.8,507 376.5,504.9 377.3,502.8 378.1,500.7 378.8,498.6 379.6,496.5 380.4,494.4 381.1,492.3 381.9,490.2 382.7,488.1 383.5,486 384.2,483.9 385,481.8 385.8,479.7 386.6,477.6 387.3,475.5 388.1,473.4 388.9,471.3 389.7,469.2 390.5,467.1 391.2,465 392,462.9 392.8,460.8 393.6,458.7 394.4,456.6 395.2,454.5 396,452.4 396.8,450.3 397.6,448.3 398.4,446.2 399.2,444.1 400,442 400.8,439.9 401.6,437.8 402.4,435.7 403.2,433.6 404,431.5 404.8,429.4 405.6,427.3 406.4,425.2 407.3,423.1 408.1,421.1 408.9,419 409.7,416.9 410.5,414.8 411.4,412.7 412.2,410.6 413,408.5 413.9,406.4 414.7,404.3 415.5,402.2 416.4,400.2 417.2,398.1 418.1,396 418.9,393.9 419.8,391.8 420.6,389.7 421.5,387.6 422.4,385.6 423.3,383.5 424.1,381.4 425,379.3 425.9,377.3 426.8,375.2 427.8,373.2 428.7,371.1 429.6,369.1 430.6,367 431.6,365 432.5,363 433.5,360.9 434.6,358.9 435.6,356.9 436.6,354.9 437.7,352.9 438.8,351 439.9,349 441,347 442.1,345.1 443.3,343.2 444.5,341.2 445.7,339.3 446.9,337.4 448.1,335.5 449.4,333.7 450.7,331.8 452,330 453.4,328.1 454.8,326.3 456.2,324.5 457.6,322.7 459.1,321 460.6,319.2 462.2,317.5 463.8,315.8 465.4,314.1 467.1,312.4 468.8,310.8 470.5,309.1 472.3,307.5 474,305.9 475.9,304.4 477.7,302.9 479.6,301.4 481.5,299.9 483.4,298.5 485.4,297.1 487.3,295.7 489.3,294.4 491.4,293.1 493.4,291.8 495.5,290.5 497.6,289.3 499.6,288.1 501.8,286.9 503.9,285.8 506,284.7 508.2,283.6 510.4,282.5 512.5,281.4 514.7,280.4 516.9,279.3 519.2,278.3 521.4,277.3 523.6,276.4 525.9,275.4 528.1,274.5 530.4,273.5 532.7,272.6 534.9,271.7 537.2,270.9 539.5,270 541.9,269.2 544.2,268.3 546.5,267.5 548.8,266.7 551.2,266 553.5,265.2 555.9,264.4 558.2,263.7 560.6,263 563,262.3 565.4,261.6 567.8,260.9 570.2,260.2 572.6,259.6 575,258.9 577.4,258.3 579.8,257.7 582.2,257.1 584.6,256.5 587,255.9 589.5,255.3 591.9,254.7 594.3,254.2 596.8,253.7 599.2,253.2 601.6,252.7 604.1,252.2 606.5,251.7 609,251.3 611.4,250.8 613.9,250.4 616.3,250 618.7,249.6 621.2,249.2 623.7,248.8 626.1,248.5 628.6,248.1 631,247.8 633.5,247.5 635.9,247.2 638.4,246.9 640.9,246.6 643.3,246.3 645.8,246.1 648.3,245.8 650.7,245.6 653.2,245.3 655.7,245.1 658.1,244.9 660.6,244.7 663.1,244.5 665.6,244.3 668,244.1 670.5,243.9 673,243.8 675.5,243.6 677.9,243.5 680.4,243.3 682.9,243.2 685.4,243 687.9,242.9 690.4,242.8 692.8,242.6 695.3,242.5 697.8,242.4 700.3,242.3 702.8,242.2 705.3,242.1 707.8,242 710.3,241.9 712.7,241.8 715.2,241.7 717.7,241.6 720.2,241.5 722.7,241.4 725.2,241.3 727.7,241.2 730.2,241.1 732.7,241 735.2,241 737.7,240.9 740.2,240.8 742.7,240.7 745.2,240.6 747.7,240.5 750.2,240.4 752.7,240.3 755.2,240.2 757.7,240.1 760.2,240 762.7,239.9 765.2,239.8 767.7,239.7 770.2,239.6 772.7,239.5 775.2,239.4 777.7,239.2 780.2,239.1 782.7,239 785.2,238.9 787.7,238.8 790.2,238.7 792.7,238.6 795.2,238.5 797.7,238.4 800.2,238.3 802.7,238.2 805.2,238.1 807.7,238 810.2,237.9 812.7,237.8 815.2,237.7 817.7,237.6 820.3,237.5 822.8,237.4 825.3,237.3 827.8,237.2 830.3,237.1 832.8,237 835.3,236.9 837.8,236.9 840.3,236.8 842.8,236.7 845.3,236.6 847.8,236.5 850.3,236.4 852.8,236.3 855.3,236.2 857.7,236.2 860.2,236.1 862.7,236 865.2,235.9 867.7,235.8 870.2,235.8 872.7,235.7 875.2,235.6 877.7,235.5 880.2,235.5 882.7,235.4 885.2,235.3 887.7,235.2 890.2,235.2 892.7,235.1 895.2,235 897.7,235 900.2,234.9 902.7,234.8 905.2,234.8 907.7,234.7 910.1,234.6 912.6,234.6 915.1,234.5 917.6,234.4 920.1,234.4 922.6,234.3 925.1,234.2 927.6,234.2 930.1,234.1 932.6,234.1 935.1,234 937.6,233.9 940.1,233.9 942.5,233.8 945,233.8 947.5,233.7 950,233.6 952.5,233.6 955,233.5 957.5,233.5 960,233.4 962.5,233.3 965,233.3 967.5,233.2 969.9,233.2 972.4,233.1 974.9,233 977.4,233 979.9,232.9 982.4,232.9 984.9,232.8 987.4,232.7 989.9,232.7 992.4,232.6 994.9,232.6 997.3,232.5 999.8,232.4 1002.3,232.4 1004.8,232.3 1007.3,232.3 1009.8,232.2 1012.3,232.1 1014.8,232.1 1017.3,232 1019.8,232 1022.3,231.9 1024.8,231.8 1027.2,231.8 1029.7,231.7 1032.2,231.6 1034.7,231.6 1037.2,231.5 1039.7,231.4 1042.2,231.4 1044.7,231.3 1047.2,231.2 1049.7,231.2 1052.2,231.1 1054.7,231 1057.2,231 1059.6,230.9 1062.1,230.8 1064.6,230.8 1067.1,230.7 1069.6,230.6 1072.1,230.6 1074.6,230.5 1077.1,230.4 1079.6,230.3 1082.1,230.3 1084.6,230.2 1087.1,230.1 1089.6,230.1 1092.1,230 1094.6,229.9 1097.1,229.8 1099.6,229.8 1102.1,229.7 1104.6,229.6 1107.1,229.6 1109.6,229.5 1112.1,229.4 1114.6,229.4 1117.1,229.3 1119.6,229.2 1122.1,229.2 1124.6,229.1 1127.1,229 1129.6,228.9 1132.1,228.9 1134.6,228.8 1137.1,228.7 1139.6,228.7 1142.1,228.6 1144.6,228.6 1147.1,228.5 1149.6,228.4 1152.1,228.4 1154.6,228.3 1157.1,228.2 1159.6,228.2 1162.1,228.1 1164.6,228.1 1167.1,228 1169.6,227.9 1172.1,227.9 1174.6,227.8 1177.1,227.8 1179.6,227.7 1182.2,227.7 1184.7,227.6" fill="none" stroke="#ff00ff" stroke-width="5.2" stroke-linecap="round" stroke-linejoin="round"/>
<polygon points="136,1185.1 150.4,1156.5 121.6,1156.5" fill="#0000ff"/>
<polygon points="235.9,1090.7 250.3,1062.1 221.5,1062.1" fill="#0000ff"/>
<polygon points="335.7,724.2 350.1,695.6 321.3,695.6" fill="#0000ff"/>
<polygon points="435.6,422.4 450,393.8 421.2,393.8" fill="#0000ff"/>
<polygon points="535.5,325.9 549.9,297.3 521.1,297.3" fill="#0000ff"/>
<polygon points="635.3,298.5 649.7,269.9 620.9,269.9" fill="#0000ff"/>
<polygon points="735.2,291.4 749.6,262.8 720.8,262.8" fill="#0000ff"/>
<polygon points="835,286.9 849.4,258.3 820.6,258.3" fill="#0000ff"/>
<polygon points="934.9,283.5 949.3,254.9 920.5,254.9" fill="#0000ff"/>
<polygon points="1034.8,280.8 1049.2,252.2 1020.4,252.2" fill="#0000ff"/>
<polygon points="1134.6,277.7 1149,249.1 1120.2,249.1" fill="#0000ff"/>
</g>
<g>
<path transform="scale(1,1.13)" d="M136,1031.9 164.6,1031.9 167.3,1031.9 170,1031.9 172.6,1031.9 175.2,1031.9 177.7,1031.9 180.1,1031.9 182.5,1031.6 184.8,1030.8 186.9,1029.9 189,1028.8 191,1027.6 192.8,1026.3 194.6,1024.8 196.3,1023.3 198,1021.7 199.6,1020 201.1,1018.3 202.6,1016.5 204.1,1014.8 205.5,1013 206.9,1011.2 208.3,1009.3 209.6,1007.5 211,1005.6 212.2,1003.8 213.5,1001.9 214.7,1000 215.9,998 217.1,996.1 218.3,994.1 219.4,992.2 220.6,990.2 221.7,988.2 222.7,986.2 223.8,984.2 224.8,982.2 225.9,980.2 226.9,978.1 227.9,976.1 228.9,974 229.8,972 230.8,969.9 231.7,967.9 232.7,965.8 233.6,963.7 234.5,961.7 235.4,959.6 236.3,957.5 237.2,955.4 238.1,953.3 239,951.3 239.9,949.2 240.8,947.1 241.7,945 242.5,942.9 243.4,940.9 244.3,938.8 245.1,936.7 246,934.6 246.8,932.5 247.6,930.4 248.5,928.3 249.3,926.2 250.1,924.2 250.9,922.1 251.7,920 252.6,917.9 253.4,915.8 254.2,913.7 255,911.6 255.7,909.5 256.5,907.4 257.3,905.3 258.1,903.2 258.9,901.1 259.6,899 260.4,896.9 261.2,894.8 261.9,892.7 262.7,890.6 263.4,888.5 264.2,886.4 264.9,884.3 265.7,882.2 266.4,880.1 267.1,877.9 267.9,875.8 268.6,873.7 269.3,871.6 270,869.5 270.7,867.4 271.5,865.3 272.2,863.2 272.9,861.1 273.6,858.9 274.3,856.8 275,854.7 275.7,852.6 276.4,850.5 277.1,848.4 277.8,846.3 278.4,844.1 279.1,842 279.8,839.9 280.5,837.8 281.2,835.7 281.8,833.5 282.5,831.4 283.2,829.3 283.9,827.2 284.5,825.1 285.2,822.9 285.9,820.8 286.5,818.7 287.2,816.6 287.9,814.4 288.5,812.3 289.2,810.2 289.8,808.1 290.5,805.9 291.1,803.8 291.8,801.7 292.4,799.6 293.1,797.4 293.7,795.3 294.4,793.2 295,791.1 295.7,788.9 296.3,786.8 297,784.7 297.6,782.5 298.3,780.4 298.9,778.3 299.6,776.2 300.2,774 300.9,771.9 301.5,769.8 302.1,767.6 302.8,765.5 303.4,763.4 304.1,761.3 304.7,759.1 305.4,757 306,754.9 306.7,752.7 307.3,750.6 308,748.5 308.6,746.3 309.3,744.2 309.9,742.1 310.6,739.9 311.2,737.8 311.9,735.7 312.5,733.5 313.2,731.4 313.8,729.3 314.5,727.2 315.1,725 315.8,722.9 316.4,720.8 317.1,718.6 317.8,716.5 318.4,714.4 319.1,712.2 319.8,710.1 320.4,708 321.1,705.8 321.8,703.7 322.4,701.6 323.1,699.5 323.8,697.3 324.5,695.2 325.2,693.1 325.8,690.9 326.5,688.8 327.2,686.7 327.9,684.5 328.6,682.4 329.3,680.3 330,678.2 330.7,676 331.4,673.9 332.1,671.8 332.8,669.6 333.5,667.5 334.2,665.4 334.9,663.3 335.6,661.1 336.3,659 337,656.9 337.7,654.8 338.4,652.6 339.2,650.5 339.9,648.4 340.6,646.3 341.3,644.1 342,642 342.8,639.9 343.5,637.8 344.2,635.6 344.9,633.5 345.7,631.4 346.4,629.3 347.1,627.2 347.9,625 348.6,622.9 349.3,620.8 350.1,618.7 350.8,616.6 351.6,614.4 352.3,612.3 353.1,610.2 353.8,608.1 354.6,606 355.3,603.9 356.1,601.8 356.8,599.6 357.6,597.5 358.3,595.4 359.1,593.3 359.8,591.2 360.6,589.1 361.4,587 362.1,584.9 362.9,582.7 363.7,580.6 364.4,578.5 365.2,576.4 366,574.3 366.8,572.2 367.5,570.1 368.3,568 369.1,565.9 369.9,563.8 370.7,561.7 371.4,559.6 372.2,557.5 373,555.4 373.8,553.3 374.6,551.2 375.4,549.1 376.2,547 377,544.9 377.8,542.8 378.6,540.7 379.4,538.6 380.2,536.5 381,534.4 381.8,532.3 382.6,530.3 383.4,528.2 384.2,526.1 385,524 385.8,521.9 386.6,519.8 387.4,517.7 388.2,515.7 389.1,513.6 389.9,511.5 390.7,509.4 391.5,507.3 392.3,505.3 393.2,503.2 394,501.1 394.8,499 395.7,496.9 396.5,494.9 397.4,492.8 398.2,490.7 399,488.7 399.9,486.6 400.7,484.5 401.6,482.5 402.5,480.4 403.3,478.3 404.2,476.3 405.1,474.2 405.9,472.1 406.8,470.1 407.7,468 408.6,466 409.5,463.9 410.4,461.8 411.3,459.8 412.2,457.7 413.1,455.7 414,453.6 414.9,451.6 415.8,449.5 416.7,447.5 417.6,445.4 418.6,443.4 419.5,441.4 420.4,439.3 421.4,437.3 422.3,435.2 423.3,433.2 424.3,431.2 425.2,429.1 426.2,427.1 427.2,425.1 428.2,423 429.2,421 430.2,419 431.2,417 432.2,415 433.2,412.9 434.3,410.9 435.3,408.9 436.4,406.9 437.4,404.9 438.5,402.9 439.6,400.9 440.7,398.9 441.8,397 442.9,395 444,393 445.1,391 446.3,389.1 447.4,387.1 448.6,385.1 449.7,383.2 450.9,381.2 452.1,379.3 453.4,377.3 454.6,375.4 455.8,373.5 457.1,371.6 458.3,369.6 459.6,367.7 460.9,365.8 462.2,363.9 463.5,362 464.9,360.1 466.2,358.2 467.6,356.4 469,354.5 470.4,352.6 471.8,350.8 473.2,348.9 474.7,347.1 476.1,345.3 477.6,343.5 479.1,341.7 480.6,339.9 482.2,338.2 483.7,336.4 485.3,334.7 486.9,333 488.5,331.4 490.1,329.7 491.7,328.1 493.4,326.5 495.1,324.9 496.8,323.4 498.5,321.8 500.3,320.3 502,318.8 503.8,317.3 505.6,315.9 507.4,314.4 509.3,313 511.2,311.6 513.1,310.2 515,308.8 516.9,307.4 518.9,306 520.8,304.7 522.8,303.4 524.8,302.1 526.8,300.8 528.9,299.5 531,298.2 533,297 535.1,295.8 537.2,294.5 539.4,293.4 541.5,292.2 543.6,291 545.8,289.9 548,288.8 550.2,287.6 552.4,286.6 554.6,285.5 556.8,284.4 559.1,283.4 561.3,282.4 563.6,281.4 565.9,280.4 568.2,279.5 570.4,278.5 572.7,277.6 575.1,276.7 577.4,275.8 579.7,274.9 582,274.1 584.4,273.3 586.7,272.5 589,271.7 591.4,270.9 593.8,270.2 596.1,269.5 598.5,268.8 600.9,268.1 603.2,267.4 605.6,266.8 608,266.1 610.4,265.5 612.8,265 615.2,264.4 617.6,263.8 620,263.3 622.4,262.8 624.8,262.3 627.2,261.8 629.6,261.3 632,260.9 634.5,260.4 636.9,260 639.3,259.6 641.7,259.2 644.2,258.8 646.6,258.4 649.1,258.1 651.5,257.7 654,257.4 656.4,257.1 658.9,256.8 661.3,256.5 663.8,256.2 666.2,255.9 668.7,255.7 671.2,255.4 673.6,255.2 676.1,254.9 678.6,254.7 681,254.5 683.5,254.3 686,254.1 688.5,253.9 691,253.8 693.4,253.6 695.9,253.4 698.4,253.3 700.9,253.1 703.4,253 705.9,252.8 708.4,252.7 710.9,252.6 713.4,252.4 715.9,252.3 718.4,252.2 720.9,252.1 723.4,252 725.9,251.9 728.4,251.8 730.9,251.7 733.4,251.6 735.9,251.5 738.4,251.4 740.9,251.3 743.4,251.3 745.9,251.2 748.4,251.1 750.9,251 753.4,250.9 756,250.8 758.5,250.7 761,250.7 763.5,250.6 766,250.5 768.5,250.4 771,250.3 773.5,250.2 776,250.1 778.5,250 781,249.9 783.5,249.8 786.1,249.6 788.6,249.5 791.1,249.4 793.6,249.3 796.1,249.2 798.6,249 801.1,248.9 803.6,248.8 806.1,248.6 808.6,248.5 811.1,248.4 813.6,248.3 816.1,248.1 818.6,248 821.1,247.9 823.6,247.7 826.1,247.6 828.6,247.5 831.1,247.4 833.6,247.3 836.1,247.1 838.6,247 841.1,246.9 843.6,246.8 846.1,246.7 848.6,246.6 851.1,246.5 853.6,246.4 856.1,246.3 858.6,246.3 861.1,246.2 863.6,246.1 866.1,246 868.6,245.9 871.1,245.9 873.6,245.8 876.1,245.7 878.5,245.7 881,245.6 883.5,245.5 886,245.5 888.5,245.4 891,245.4 893.5,245.3 896,245.3 898.5,245.2 901,245.2 903.5,245.1 906,245.1 908.5,245 911,245 913.5,244.9 915.9,244.9 918.4,244.8 920.9,244.8 923.4,244.8 925.9,244.7 928.4,244.7 930.9,244.7 933.4,244.6 935.9,244.6 938.4,244.6 940.9,244.5 943.4,244.5 945.8,244.5 948.3,244.4 950.8,244.4 953.3,244.4 955.8,244.3 958.3,244.3 960.8,244.3 963.3,244.2 965.8,244.2 968.3,244.2 970.8,244.2 973.2,244.1 975.7,244.1 978.2,244.1 980.7,244.1 983.2,244 985.7,244 988.2,244 990.7,244 993.2,243.9 995.7,243.9 998.2,243.9 1000.7,243.9 1003.1,243.8 1005.6,243.8 1008.1,243.8 1010.6,243.8 1013.1,243.7 1015.6,243.7 1018.1,243.7 1020.6,243.7 1023.1,243.6 1025.6,243.6 1028.1,243.6 1030.6,243.6 1033,243.6 1035.5,243.5 1038,243.5 1040.5,243.5 1043,243.5 1045.5,243.4 1048,243.4 1050.5,243.4 1053,243.4 1055.5,243.3 1058,243.3 1060.5,243.3 1063,243.3 1065.5,243.3 1068,243.2 1070.5,243.2 1073,243.2 1075.5,243.2 1077.9,243.1 1080.4,243.1 1082.9,243.1 1085.4,243.1 1087.9,243 1090.4,243 1092.9,243 1095.4,243 1097.9,242.9 1100.4,242.9 1102.9,242.9 1105.4,242.8 1107.9,242.8 1110.4,242.8 1112.9,242.8 1115.4,242.7 1117.9,242.7 1120.4,242.7 1122.9,242.6 1125.4,242.6 1127.9,242.6 1130.4,242.5 1132.9,242.5 1135.4,242.5 1138,242.4 1140.5,242.4 1143,242.4 1145.5,242.3 1148,242.3 1150.5,242.3 1153,242.2 1155.5,242.2 1158,242.1 1160.5,242.1 1163,242.1 1165.5,242 1168,242 1170.5,241.9 1173.1,241.9 1175.6,241.8 1178.1,241.8 1180.6,241.8 1183.1,241.7 1185.6,241.7 1188.1,241.6 1190.6,241.6 1193.1,241.5 1195.7,241.5 1198.2,241.4" fill="none" stroke="#008000" stroke-width="5.2" stroke-linecap="round" stroke-linejoin="round"/>
<polygon points="136,1148.7 151.3,1166 136,1183.3 120.7,1166" fill="#00ffff"/>
<polygon points="235.9,1065.9 251.2,1083.2 235.9,1100.5 220.6,1083.2" fill="#00ffff"/>
<polygon points="335.7,729.3 351,746.6 335.7,763.9 320.4,746.6" fill="#00ffff"/>
<polygon points="435.6,444.2 450.9,461.5 435.6,478.8 420.3,461.5" fill="#00ffff"/>
<polygon points="535.5,316.7 550.8,334 535.5,351.3 520.2,334" fill="#00ffff"/>
<polygon points="635.3,276.8 650.6,294.1 635.3,311.4 620,294.1" fill="#00ffff"/>
<polygon points="735.2,267 750.5,284.3 735.2,301.6 719.9,284.3" fill="#00ffff"/>
<polygon points="835,262 850.3,279.3 835,296.6 819.7,279.3" fill="#00ffff"/>
<polygon points="934.9,259.1 950.2,276.4 934.9,293.7 919.6,276.4" fill="#00ffff"/>
<polygon points="1034.8,257.9 1050.1,275.2 1034.8,292.5 1019.5,275.2" fill="#00ffff"/>
<polygon points="1134.6,256.7 1149.9,274 1134.6,291.3 1119.3,274" fill="#00ffff"/>
</g>
<g>
<path transform="scale(1,1.13)" d="M136,1031.9 164.1,1031.9 166.9,1031.9 169.6,1031.9 172.2,1031.9 174.7,1031.9 177.2,1031.9 179.5,1031.9 181.8,1031.5 184,1030.8 186.1,1030 188.2,1028.9 190.1,1027.7 192.1,1026.4 193.9,1024.9 195.7,1023.4 197.4,1021.8 199,1020.2 200.6,1018.5 202.2,1016.8 203.7,1015 205.1,1013.3 206.6,1011.5 207.9,1009.6 209.2,1007.7 210.5,1005.9 211.8,1003.9 213,1002 214.2,1000.1 215.4,998.1 216.5,996.1 217.6,994.1 218.7,992.1 219.8,990.1 220.9,988 221.9,986 223,984 224,981.9 225.1,979.9 226.1,977.9 227.1,975.8 228.1,973.8 229.1,971.8 230.1,969.7 231.1,967.7 232.1,965.6 233.1,963.6 234,961.5 235,959.5 235.9,957.4 236.9,955.4 237.8,953.3 238.7,951.3 239.7,949.2 240.6,947.2 241.5,945.1 242.4,943 243.3,941 244.2,938.9 245.1,936.8 246,934.8 246.8,932.7 247.7,930.6 248.6,928.6 249.4,926.5 250.3,924.4 251.1,922.3 252,920.3 252.8,918.2 253.6,916.1 254.4,914 255.3,912 256.1,909.9 256.9,907.8 257.7,905.7 258.5,903.6 259.3,901.5 260,899.4 260.8,897.4 261.6,895.3 262.4,893.2 263.1,891.1 263.9,889 264.7,886.9 265.4,884.8 266.2,882.7 266.9,880.6 267.6,878.5 268.4,876.4 269.1,874.3 269.8,872.2 270.6,870.1 271.3,868 272,865.9 272.7,863.8 273.4,861.7 274.2,859.6 274.9,857.5 275.6,855.4 276.3,853.3 277,851.2 277.7,849.1 278.4,847 279.1,844.9 279.8,842.8 280.5,840.7 281.2,838.5 281.8,836.4 282.5,834.3 283.2,832.2 283.9,830.1 284.6,828 285.3,825.9 286,823.8 286.7,821.6 287.4,819.5 288.1,817.4 288.8,815.3 289.4,813.2 290.1,811.1 290.8,809 291.5,806.8 292.2,804.7 292.9,802.6 293.6,800.5 294.3,798.4 295,796.2 295.7,794.1 296.5,792 297.2,789.9 297.9,787.8 298.6,785.7 299.3,783.5 300,781.4 300.8,779.3 301.5,777.2 302.2,775.1 302.9,772.9 303.7,770.8 304.4,768.7 305.1,766.6 305.9,764.5 306.6,762.3 307.4,760.2 308.1,758.1 308.8,756 309.6,753.9 310.3,751.7 311.1,749.6 311.8,747.5 312.6,745.4 313.3,743.3 314.1,741.1 314.8,739 315.6,736.9 316.4,734.8 317.1,732.7 317.9,730.5 318.7,728.4 319.4,726.3 320.2,724.2 321,722.1 321.7,720 322.5,717.8 323.3,715.7 324.1,713.6 324.8,711.5 325.6,709.4 326.4,707.3 327.2,705.2 328,703 328.7,700.9 329.5,698.8 330.3,696.7 331.1,694.6 331.9,692.5 332.7,690.4 333.5,688.3 334.3,686.2 335.1,684.1 335.9,681.9 336.7,679.8 337.4,677.7 338.2,675.6 339,673.5 339.8,671.4 340.6,669.3 341.4,667.2 342.3,665.1 343.1,663 343.9,660.9 344.7,658.8 345.5,656.7 346.3,654.6 347.1,652.5 347.9,650.4 348.7,648.3 349.5,646.2 350.3,644.1 351.1,642 352,639.9 352.8,637.8 353.6,635.7 354.4,633.6 355.2,631.5 356,629.4 356.8,627.3 357.7,625.2 358.5,623.1 359.3,621 360.1,618.9 360.9,616.8 361.8,614.7 362.6,612.6 363.4,610.6 364.2,608.5 365,606.4 365.9,604.3 366.7,602.2 367.5,600.1 368.3,598 369.2,595.9 370,593.8 370.8,591.8 371.6,589.7 372.5,587.6 373.3,585.5 374.1,583.4 374.9,581.3 375.8,579.2 376.6,577.2 377.4,575.1 378.2,573 379,570.9 379.9,568.8 380.7,566.8 381.5,564.7 382.3,562.6 383.2,560.5 384,558.5 384.8,556.4 385.6,554.3 386.4,552.2 387.3,550.2 388.1,548.1 388.9,546 389.7,543.9 390.5,541.9 391.4,539.8 392.2,537.7 393,535.6 393.8,533.6 394.6,531.5 395.4,529.4 396.2,527.4 397,525.3 397.9,523.2 398.7,521.2 399.5,519.1 400.3,517 401.1,515 401.9,512.9 402.8,510.9 403.6,508.8 404.4,506.7 405.3,504.7 406.1,502.6 406.9,500.5 407.8,498.5 408.7,496.4 409.5,494.4 410.4,492.3 411.3,490.3 412.2,488.2 413.1,486.1 414,484.1 414.9,482 415.8,480 416.7,477.9 417.7,475.9 418.6,473.8 419.6,471.8 420.6,469.8 421.6,467.7 422.5,465.7 423.5,463.6 424.6,461.6 425.6,459.6 426.6,457.5 427.7,455.5 428.7,453.5 429.8,451.5 430.9,449.5 431.9,447.4 433,445.4 434.2,443.4 435.3,441.4 436.4,439.4 437.6,437.5 438.7,435.5 439.9,433.5 441.1,431.5 442.3,429.5 443.5,427.6 444.7,425.6 445.9,423.7 447.2,421.7 448.4,419.8 449.7,417.9 451,415.9 452.3,414 453.6,412.1 454.9,410.2 456.3,408.3 457.6,406.4 459,404.5 460.4,402.7 461.8,400.8 463.2,398.9 464.6,397.1 466,395.2 467.5,393.4 468.9,391.6 470.4,389.8 471.9,388 473.4,386.2 475,384.4 476.5,382.6 478.1,380.9 479.6,379.1 481.2,377.4 482.8,375.7 484.5,374 486.1,372.3 487.7,370.7 489.4,369 491.1,367.4 492.8,365.8 494.5,364.2 496.3,362.6 498,361 499.8,359.5 501.6,358 503.4,356.5 505.2,355 507.1,353.5 508.9,352.1 510.8,350.7 512.7,349.3 514.6,347.9 516.5,346.6 518.5,345.3 520.4,344 522.4,342.7 524.4,341.5 526.5,340.3 528.5,339.1 530.6,337.9 532.7,336.8 534.8,335.7 536.9,334.6 539,333.6 541.2,332.6 543.4,331.6 545.6,330.6 547.8,329.7 550,328.8 552.3,327.9 554.6,327.1 556.9,326.3 559.2,325.6 561.5,324.8 563.9,324.1 566.3,323.4 568.6,322.8 571,322.1 573.5,321.5 575.9,320.9 578.3,320.3 580.7,319.8 583.2,319.2 585.6,318.6 588.1,318.1 590.6,317.6 593,317 595.5,316.5 597.9,316 600.4,315.5 602.9,315 605.3,314.5 607.8,314 610.3,313.5 612.7,313 615.2,312.5 617.7,312.1 620.1,311.6 622.6,311.2 625.1,310.8 627.5,310.4 630,309.9 632.5,309.6 635,309.2 637.4,308.8 639.9,308.4 642.4,308.1 644.9,307.8 647.3,307.4 649.8,307.1 652.3,306.8 654.8,306.5 657.2,306.2 659.7,305.9 662.2,305.6 664.7,305.4 667.1,305.1 669.6,304.9 672.1,304.6 674.6,304.4 677.1,304.1 679.5,303.9 682,303.7 684.5,303.5 687,303.3 689.5,303.1 692,302.9 694.4,302.7 696.9,302.5 699.4,302.3 701.9,302.1 704.4,301.9 706.9,301.8 709.3,301.6 711.8,301.4 714.3,301.3 716.8,301.1 719.3,300.9 721.8,300.8 724.3,300.6 726.8,300.5 729.2,300.3 731.7,300.2 734.2,300.1 736.7,299.9 739.2,299.8 741.7,299.6 744.2,299.5 746.7,299.3 749.2,299.2 751.7,299.1 754.1,298.9 756.6,298.8 759.1,298.7 761.6,298.5 764.1,298.4 766.6,298.3 769.1,298.1 771.6,298 774.1,297.9 776.6,297.8 779.1,297.6 781.6,297.5 784.1,297.4 786.6,297.3 789,297.2 791.5,297 794,296.9 796.5,296.8 799,296.7 801.5,296.6 804,296.5 806.5,296.4 809,296.3 811.5,296.2 814,296.1 816.5,296 819,295.9 821.5,295.8 824,295.7 826.5,295.7 829,295.6 831.5,295.5 834,295.4 836.5,295.4 839,295.3 841.4,295.2 843.9,295.1 846.4,295.1 848.9,295 851.4,295 853.9,294.9 856.4,294.8 858.9,294.8 861.4,294.7 863.9,294.7 866.4,294.6 868.9,294.6 871.4,294.5 873.9,294.5 876.4,294.5 878.9,294.4 881.4,294.4 883.9,294.3 886.4,294.3 888.9,294.2 891.4,294.2 893.9,294.2 896.4,294.1 898.9,294.1 901.4,294 903.9,294 906.4,294 908.8,293.9 911.3,293.9 913.8,293.8 916.3,293.8 918.8,293.8 921.3,293.7 923.8,293.7 926.3,293.6 928.8,293.6 931.3,293.5 933.8,293.5 936.3,293.4 938.8,293.4 941.3,293.3 943.8,293.3 946.3,293.2 948.8,293.1 951.3,293.1 953.8,293 956.3,293 958.8,292.9 961.3,292.8 963.8,292.8 966.3,292.7 968.8,292.7 971.3,292.6 973.8,292.5 976.3,292.5 978.8,292.4 981.3,292.3 983.8,292.3 986.3,292.2 988.8,292.1 991.2,292.1 993.7,292 996.2,291.9 998.7,291.9 1001.2,291.8 1003.7,291.8 1006.2,291.7 1008.7,291.6 1011.2,291.6 1013.7,291.5 1016.2,291.5 1018.7,291.4 1021.2,291.3 1023.7,291.3 1026.2,291.2 1028.7,291.2 1031.2,291.1 1033.7,291.1 1036.2,291 1038.7,291 1041.2,290.9 1043.7,290.9 1046.2,290.9 1048.7,290.8 1051.2,290.8 1053.7,290.7 1056.2,290.7 1058.7,290.7 1061.2,290.6 1063.7,290.6 1066.2,290.6 1068.7,290.5 1071.2,290.5 1073.7,290.5 1076.2,290.5 1078.6,290.4 1081.1,290.4 1083.6,290.4 1086.1,290.3 1088.6,290.3 1091.1,290.3 1093.6,290.3 1096.1,290.2 1098.6,290.2 1101.1,290.2 1103.6,290.2 1106.1,290.1 1108.6,290.1 1111.1,290.1 1113.6,290.1 1116.1,290 1118.6,290 1121.1,290 1123.6,290 1126.1,289.9 1128.6,289.9 1131.1,289.9 1133.6,289.8 1136.1,289.8 1138.6,289.8 1141.1,289.7 1143.6,289.7 1146.1,289.7 1148.6,289.6 1151,289.6 1153.5,289.6 1156,289.5 1158.5,289.5 1161,289.4 1163.5,289.4 1166,289.3 1168.5,289.3 1171,289.2 1173.5,289.2 1176,289.1 1178.5,289.1 1181,289 1183.5,289 1186,288.9 1188.5,288.8 1191,288.8" fill="none" stroke="#000080" stroke-width="5.2" stroke-linecap="round" stroke-linejoin="round"/>
<polygon points="119.1,1166 144.8,1149.4 144.8,1182.6" fill="#ff00ff"/>
<polygon points="219,1082.1 244.7,1065.5 244.7,1098.7" fill="#ff00ff"/>
<polygon points="318.8,771 344.5,754.4 344.5,787.6" fill="#ff00ff"/>
<polygon points="418.7,498.2 444.4,481.6 444.4,514.8" fill="#ff00ff"/>
<polygon points="518.6,378.9 544.2,362.3 544.2,395.5" fill="#ff00ff"/>
<polygon points="618.4,349.3 644.1,332.7 644.1,365.9" fill="#ff00ff"/>
<polygon points="718.3,339 744,322.4 744,355.6" fill="#ff00ff"/>
<polygon points="818.1,333.8 843.8,317.2 843.8,350.4" fill="#ff00ff"/>
<polygon points="918,331.6 943.7,315 943.7,348.2" fill="#ff00ff"/>
<polygon points="1017.9,328.9 1043.6,312.3 1043.6,345.5" fill="#ff00ff"/>
<polygon points="1117.7,327.5 1143.4,310.9 1143.4,344.1" fill="#ff00ff"/>
</g>
<g>
<path transform="scale(1,1.13)" d="M136,1031.9 160.5,1031.9 163.4,1031.9 166.2,1031.9 168.9,1031.9 171.5,1031.9 174,1031.9 176.4,1031.9 178.8,1031.6 181,1031 183.1,1030.1 185.2,1029.1 187.2,1027.9 189.1,1026.5 190.9,1025 192.7,1023.4 194.4,1021.8 196,1020.1 197.6,1018.4 199.1,1016.6 200.6,1014.9 202,1013.1 203.4,1011.2 204.7,1009.4 206,1007.5 207.2,1005.6 208.5,1003.7 209.6,1001.8 210.8,999.8 211.9,997.9 213,995.9 214.1,993.9 215.2,991.9 216.2,989.9 217.3,987.9 218.3,985.9 219.4,983.9 220.4,981.9 221.4,979.8 222.5,977.8 223.5,975.8 224.5,973.8 225.5,971.7 226.5,969.7 227.5,967.7 228.5,965.6 229.5,963.6 230.5,961.6 231.5,959.5 232.5,957.5 233.4,955.4 234.4,953.4 235.4,951.3 236.3,949.3 237.3,947.2 238.2,945.2 239.1,943.1 240.1,941.1 241,939 241.9,936.9 242.8,934.9 243.7,932.8 244.6,930.7 245.5,928.7 246.3,926.6 247.2,924.5 248.1,922.4 248.9,920.4 249.8,918.3 250.7,916.2 251.5,914.1 252.3,912 253.2,910 254,907.9 254.8,905.8 255.7,903.7 256.5,901.6 257.3,899.5 258.1,897.4 258.9,895.3 259.7,893.2 260.5,891.2 261.3,889.1 262.1,887 262.9,884.9 263.6,882.8 264.4,880.7 265.2,878.6 266,876.5 266.7,874.4 267.5,872.3 268.3,870.2 269,868.1 269.8,866 270.5,863.9 271.3,861.7 272,859.6 272.8,857.5 273.5,855.4 274.3,853.3 275,851.2 275.8,849.1 276.5,847 277.3,844.9 278,842.8 278.7,840.7 279.5,838.6 280.2,836.4 280.9,834.3 281.7,832.2 282.4,830.1 283.1,828 283.9,825.9 284.6,823.8 285.3,821.7 286.1,819.6 286.8,817.4 287.5,815.3 288.3,813.2 289,811.1 289.7,809 290.5,806.9 291.2,804.8 292,802.7 292.7,800.6 293.4,798.5 294.2,796.4 294.9,794.2 295.7,792.1 296.4,790 297.2,787.9 297.9,785.8 298.7,783.7 299.4,781.6 300.2,779.5 300.9,777.4 301.7,775.3 302.5,773.2 303.2,771.1 304,769 304.8,766.9 305.5,764.8 306.3,762.7 307.1,760.6 307.8,758.5 308.6,756.4 309.4,754.3 310.1,752.2 310.9,750.1 311.7,748 312.5,745.9 313.2,743.8 314,741.7 314.8,739.6 315.6,737.5 316.4,735.4 317.2,733.3 318,731.2 318.7,729.1 319.5,727 320.3,724.9 321.1,722.8 321.9,720.7 322.7,718.6 323.5,716.5 324.3,714.4 325.1,712.3 325.9,710.3 326.7,708.2 327.5,706.1 328.3,704 329.1,701.9 329.9,699.8 330.7,697.7 331.5,695.6 332.3,693.5 333.1,691.4 333.9,689.3 334.7,687.3 335.6,685.2 336.4,683.1 337.2,681 338,678.9 338.8,676.8 339.6,674.7 340.4,672.6 341.3,670.5 342.1,668.5 342.9,666.4 343.7,664.3 344.5,662.2 345.4,660.1 346.2,658 347,655.9 347.8,653.8 348.7,651.8 349.5,649.7 350.3,647.6 351.2,645.5 352,643.4 352.8,641.3 353.6,639.3 354.5,637.2 355.3,635.1 356.1,633 357,630.9 357.8,628.8 358.6,626.8 359.5,624.7 360.3,622.6 361.2,620.5 362,618.4 362.8,616.3 363.7,614.3 364.5,612.2 365.3,610.1 366.2,608 367,605.9 367.9,603.8 368.7,601.8 369.6,599.7 370.4,597.6 371.2,595.5 372.1,593.4 372.9,591.4 373.8,589.3 374.6,587.2 375.5,585.1 376.3,583 377.2,581 378,578.9 378.9,576.8 379.7,574.7 380.6,572.6 381.4,570.6 382.3,568.5 383.1,566.4 384,564.3 384.8,562.2 385.7,560.2 386.5,558.1 387.4,556 388.2,553.9 389.1,551.8 389.9,549.8 390.8,547.7 391.6,545.6 392.5,543.5 393.4,541.5 394.2,539.4 395.1,537.3 395.9,535.2 396.8,533.1 397.6,531.1 398.5,529 399.3,526.9 400.2,524.8 401.1,522.8 401.9,520.7 402.8,518.6 403.6,516.5 404.5,514.4 405.4,512.4 406.2,510.3 407.1,508.2 408,506.1 408.8,504.1 409.7,502 410.6,499.9 411.4,497.9 412.3,495.8 413.2,493.7 414.1,491.7 415,489.6 415.9,487.5 416.8,485.5 417.7,483.4 418.6,481.3 419.5,479.3 420.4,477.2 421.3,475.2 422.2,473.1 423.1,471.1 424,469 425,467 425.9,464.9 426.8,462.9 427.8,460.8 428.7,458.8 429.7,456.7 430.7,454.7 431.6,452.7 432.6,450.6 433.6,448.6 434.6,446.6 435.5,444.6 436.5,442.5 437.5,440.5 438.5,438.5 439.6,436.5 440.6,434.5 441.6,432.5 442.7,430.5 443.7,428.5 444.8,426.5 445.8,424.5 446.9,422.5 448,420.5 449,418.5 450.1,416.5 451.2,414.5 452.3,412.6 453.5,410.6 454.6,408.6 455.7,406.7 456.9,404.7 458,402.7 459.2,400.8 460.4,398.8 461.5,396.9 462.7,395 463.9,393 465.2,391.1 466.4,389.2 467.6,387.2 468.9,385.3 470.1,383.4 471.4,381.5 472.7,379.6 473.9,377.7 475.3,375.8 476.6,373.9 477.9,372 479.2,370.1 480.6,368.3 481.9,366.4 483.3,364.5 484.7,362.7 486.1,360.8 487.5,358.9 488.9,357.1 490.4,355.3 491.8,353.5 493.3,351.7 494.8,349.9 496.3,348.1 497.9,346.4 499.5,344.7 501.1,343 502.8,341.4 504.5,339.8 506.3,338.2 508.1,336.7 509.9,335.3 511.8,333.9 513.8,332.5 515.7,331.1 517.7,329.8 519.8,328.6 521.8,327.3 523.9,326.1 526,324.9 528.1,323.7 530.3,322.6 532.4,321.4 534.6,320.3 536.7,319.1 538.9,318 541.1,316.9 543.3,315.8 545.5,314.7 547.7,313.6 549.9,312.5 552.1,311.5 554.3,310.4 556.5,309.4 558.8,308.4 561,307.4 563.3,306.4 565.5,305.4 567.8,304.5 570.1,303.6 572.4,302.7 574.7,301.9 577,301.1 579.3,300.3 581.6,299.5 584,298.8 586.3,298.1 588.7,297.4 591.1,296.8 593.5,296.1 595.9,295.5 598.3,295 600.7,294.4 603.1,293.9 605.5,293.4 607.9,292.9 610.4,292.4 612.8,292 615.3,291.5 617.7,291.1 620.2,290.7 622.6,290.3 625.1,289.9 627.6,289.5 630,289.2 632.5,288.8 635,288.5 637.4,288.1 639.9,287.8 642.4,287.5 644.8,287.1 647.3,286.8 649.8,286.5 652.3,286.2 654.7,285.9 657.2,285.6 659.7,285.3 662.2,285 664.6,284.7 667.1,284.5 669.6,284.2 672.1,283.9 674.6,283.7 677,283.4 679.5,283.2 682,282.9 684.5,282.7 687,282.4 689.4,282.2 691.9,282 694.4,281.8 696.9,281.5 699.4,281.3 701.9,281.1 704.3,280.9 706.8,280.7 709.3,280.5 711.8,280.3 714.3,280.1 716.8,279.9 719.3,279.8 721.8,279.6 724.2,279.4 726.7,279.2 729.2,279.1 731.7,278.9 734.2,278.7 736.7,278.6 739.2,278.4 741.7,278.3 744.2,278.1 746.7,278 749.2,277.8 751.6,277.7 754.1,277.6 756.6,277.4 759.1,277.3 761.6,277.2 764.1,277 766.6,276.9 769.1,276.8 771.6,276.7 774.1,276.6 776.6,276.4 779.1,276.3 781.6,276.2 784.1,276.1 786.6,276 789.1,275.9 791.6,275.8 794.1,275.7 796.5,275.6 799,275.5 801.5,275.4 804,275.3 806.5,275.2 809,275.1 811.5,275 814,274.9 816.5,274.9 819,274.8 821.5,274.7 824,274.6 826.5,274.5 829,274.4 831.5,274.3 834,274.3 836.5,274.2 839,274.1 841.5,274 844,273.9 846.5,273.9 849,273.8 851.5,273.7 854,273.6 856.5,273.5 859,273.5 861.5,273.4 864,273.3 866.5,273.2 868.9,273.2 871.4,273.1 873.9,273 876.4,272.9 878.9,272.9 881.4,272.8 883.9,272.7 886.4,272.7 888.9,272.6 891.4,272.5 893.9,272.4 896.4,272.4 898.9,272.3 901.4,272.2 903.9,272.2 906.4,272.1 908.9,272 911.4,272 913.9,271.9 916.4,271.8 918.9,271.8 921.4,271.7 923.9,271.6 926.4,271.6 928.9,271.5 931.4,271.4 933.8,271.4 936.3,271.3 938.8,271.3 941.3,271.2 943.8,271.1 946.3,271.1 948.8,271 951.3,270.9 953.8,270.9 956.3,270.8 958.8,270.8 961.3,270.7 963.8,270.6 966.3,270.6 968.8,270.5 971.3,270.5 973.8,270.4 976.3,270.4 978.8,270.3 981.3,270.2 983.8,270.2 986.3,270.1 988.8,270.1 991.3,270 993.8,270 996.2,269.9 998.7,269.9 1001.2,269.8 1003.7,269.8 1006.2,269.7 1008.7,269.7 1011.2,269.6 1013.7,269.5 1016.2,269.5 1018.7,269.4 1021.2,269.4 1023.7,269.3 1026.2,269.3 1028.7,269.2 1031.2,269.2 1033.7,269.1 1036.2,269.1 1038.7,269 1041.2,269 1043.7,268.9 1046.2,268.9 1048.7,268.9 1051.2,268.8 1053.7,268.8 1056.2,268.7 1058.7,268.7 1061.1,268.6 1063.6,268.6 1066.1,268.5 1068.6,268.5 1071.1,268.4 1073.6,268.4 1076.1,268.3 1078.6,268.3 1081.1,268.3 1083.6,268.2 1086.1,268.2 1088.6,268.1 1091.1,268.1 1093.6,268 1096.1,268 1098.6,267.9 1101.1,267.9 1103.6,267.9 1106.1,267.8 1108.6,267.8 1111.1,267.7 1113.6,267.7 1116.1,267.7 1118.6,267.6 1121.1,267.6 1123.6,267.5 1126.1,267.5 1128.6,267.4 1131.1,267.4 1133.6,267.4 1136.1,267.3 1138.6,267.3 1141.1,267.2 1143.6,267.2 1146.1,267.2 1148.5,267.1 1151,267.1 1153.5,267 1156,267 1158.5,267 1161,266.9 1163.5,266.9 1166,266.8 1168.5,266.8 1171,266.8 1173.5,266.7 1176,266.7 1178.5,266.7 1181,266.6 1183.5,266.6 1186,266.5 1188.5,266.5 1191,266.5" fill="none" stroke="#8000ff" stroke-width="5.2" stroke-linecap="round" stroke-linejoin="round"/>
<polygon points="153.1,1166 127.4,1149.4 127.4,1182.6" fill="#ffff00"/>
<polygon points="253,1073.8 227.3,1057.2 227.3,1090.4" fill="#ffff00"/>
<polygon points="352.8,773.7 327.1,757.1 327.1,790.3" fill="#ffff00"/>
<polygon points="452.7,502.2 427,485.6 427,518.8" fill="#ffff00"/>
<polygon points="552.6,361.4 526.9,344.8 526.9,378" fill="#ffff00"/>
<polygon points="652.4,325.9 626.7,309.3 626.7,342.5" fill="#ffff00"/>
<polygon points="752.3,314.9 726.6,298.3 726.6,331.5" fill="#ffff00"/>
<polygon points="852.1,309.9 826.4,293.3 826.4,326.5" fill="#ffff00"/>
<polygon points="952,306.6 926.3,290 926.3,323.2" fill="#ffff00"/>
<polygon points="1051.9,304.1 1026.2,287.5 1026.2,320.7" fill="#ffff00"/>
<polygon points="1151.7,302.1 1126,285.5 1126,318.7" fill="#ffff00"/>
</g>
</g>
<rect x="795.6" y="432.9" width="266.6" height="453.9" fill="#fff" stroke="#000" stroke-width="1.5"/>
<path transform="scale(1,1.13)" d="M819.2,415.6 H921.3" fill="none" stroke="#000000" stroke-width="5.2" stroke-linecap="round"/>
<rect x="859.2" y="457.4" width="21.6" height="24.4" fill="#000000"/>
<text transform="translate(0,490.2) scale(0.63,1.0)" x="1522.54 1562.54 1605.71 1647.62" y="0" font-size="59.9" text-anchor="middle">PCM1</text>
<path transform="scale(1,1.13)" d="M819.2,472.7 H921.3" fill="none" stroke="#ff0000" stroke-width="5.2" stroke-linecap="round"/>
<ellipse cx="870" cy="534.1" rx="11.9" ry="14" fill="#ff0000"/>
<text transform="translate(0,554.7) scale(0.63,1.0)" x="1522.54 1562.54 1605.71 1647.62" y="0" font-size="59.9" text-anchor="middle">PCM2</text>
<path transform="scale(1,1.13)" d="M819.2,529.7 H921.3" fill="none" stroke="#0000ff" stroke-width="5.2" stroke-linecap="round"/>
<polygon points="870,579.2 884.4,608.6 855.6,608.6" fill="#00ff00"/>
<text transform="translate(0,619.2) scale(0.63,1.0)" x="1522.54 1562.54 1605.71 1647.62" y="0" font-size="59.9" text-anchor="middle">PCM3</text>
<path transform="scale(1,1.13)" d="M819.2,586.8 H921.3" fill="none" stroke="#ff00ff" stroke-width="5.2" stroke-linecap="round"/>
<polygon points="870,682.2 884.4,653.6 855.6,653.6" fill="#0000ff"/>
<text transform="translate(0,683.7) scale(0.63,1.0)" x="1522.54 1562.54 1605.71 1647.62" y="0" font-size="59.9" text-anchor="middle">PCM4</text>
<path transform="scale(1,1.13)" d="M819.2,644.1 H921.3" fill="none" stroke="#008000" stroke-width="5.2" stroke-linecap="round"/>
<polygon points="870,710.5 885.3,727.8 870,745.1 854.7,727.8" fill="#00ffff"/>
<text transform="translate(0,748.4) scale(0.63,1.0)" x="1522.54 1562.54 1605.71 1647.62" y="0" font-size="59.9" text-anchor="middle">PCM5</text>
<path transform="scale(1,1.13)" d="M819.2,701.3 H921.3" fill="none" stroke="#000080" stroke-width="5.2" stroke-linecap="round"/>
<polygon points="853.1,792.5 878.8,775.9 878.8,809.1" fill="#ff00ff"/>
<text transform="translate(0,813.1) scale(0.63,1.0)" x="1522.54 1562.54 1605.71 1647.62" y="0" font-size="59.9" text-anchor="middle">PCM6</text>
<path transform="scale(1,1.13)" d="M819.2,758.5 H921.3" fill="none" stroke="#8000ff" stroke-width="5.2" stroke-linecap="round"/>
<polygon points="887.1,857.1 861.4,840.5 861.4,873.7" fill="#ffff00"/>
<text transform="translate(0,877.7) scale(0.63,1.0)" x="1522.54 1562.54 1605.71 1647.62" y="0" font-size="59.9" text-anchor="middle">PCM7</text>
<text transform="translate(0,1244.2) scale(0.81,1.0)" x="167.90" y="0" font-size="49.6" text-anchor="middle" class="tk">0</text>
<text transform="translate(0,1244.2) scale(0.81,1.0)" x="347.45 373.38 399.31" y="0" font-size="49.6" text-anchor="middle" class="tk">100</text>
<text transform="translate(0,1244.2) scale(0.81,1.0)" x="552.93 578.86 604.78" y="0" font-size="49.6" text-anchor="middle" class="tk">200</text>
<text transform="translate(0,1244.2) scale(0.81,1.0)" x="758.41 784.34 810.26" y="0" font-size="49.6" text-anchor="middle" class="tk">300</text>
<text transform="translate(0,1244.2) scale(0.81,1.0)" x="963.89 989.81 1015.74" y="0" font-size="49.6" text-anchor="middle" class="tk">400</text>
<text transform="translate(0,1244.2) scale(0.81,1.0)" x="1169.37 1195.29 1221.22" y="0" font-size="49.6" text-anchor="middle" class="tk">500</text>
<text transform="translate(0,1244.2) scale(0.81,1.0)" x="1374.85 1400.77 1426.70" y="0" font-size="49.6" text-anchor="middle" class="tk">600</text>
<text transform="translate(0,1244.2) scale(0.81,1.0)" x="1580.32 1606.25 1632.18" y="0" font-size="49.6" text-anchor="middle" class="tk">700</text>
<text transform="translate(0,1244.2) scale(0.81,1.0)" x="1785.80 1811.73 1837.65" y="0" font-size="49.6" text-anchor="middle" class="tk">800</text>
<text transform="translate(0,1184.9) scale(0.81,1.0)" x="114.32" y="0" font-size="49.6" text-anchor="middle" class="tk">0</text>
<text transform="translate(0,1022.2) scale(0.81,1.0)" x="88.40 114.32" y="0" font-size="49.6" text-anchor="middle" class="tk">20</text>
<text transform="translate(0,859.5) scale(0.81,1.0)" x="88.40 114.32" y="0" font-size="49.6" text-anchor="middle" class="tk">40</text>
<text transform="translate(0,696.8) scale(0.81,1.0)" x="88.40 114.32" y="0" font-size="49.6" text-anchor="middle" class="tk">60</text>
<text transform="translate(0,534) scale(0.81,1.0)" x="88.40 114.32" y="0" font-size="49.6" text-anchor="middle" class="tk">80</text>
<text transform="translate(0,371.3) scale(0.81,1.0)" x="62.47 88.40 114.32" y="0" font-size="49.6" text-anchor="middle" class="tk">100</text>
<text transform="translate(0,208.6) scale(0.81,1.0)" x="62.47 88.40 114.32" y="0" font-size="49.6" text-anchor="middle" class="tk">120</text>
<text transform="translate(0,45.9) scale(0.81,1.0)" x="62.47 88.40 114.32" y="0" font-size="49.6" text-anchor="middle" class="tk">140</text>
<text transform="translate(0,1321.9) scale(0.68,1.0)" x="1067.06 1104.26 1142.79 1179.56 1223.82 1254.56 1288.24" y="0" font-size="59.9" text-anchor="middle" dy="0 0 0 0 -6 6 -6">Time(s)</text>
<text transform="translate(55.2,711.4) rotate(-90) scale(0.66,1)" x="0.00 45.76 91.52 140.76 180.30 219.55 270.00 314.55 351.36 382.73" y="0" dy="0 0 0 -6 6 0 0 0 -5.5 -0.5" font-size="59.9" text-anchor="middle">THR(MJ/m²)</text>
</svg></body></html>
